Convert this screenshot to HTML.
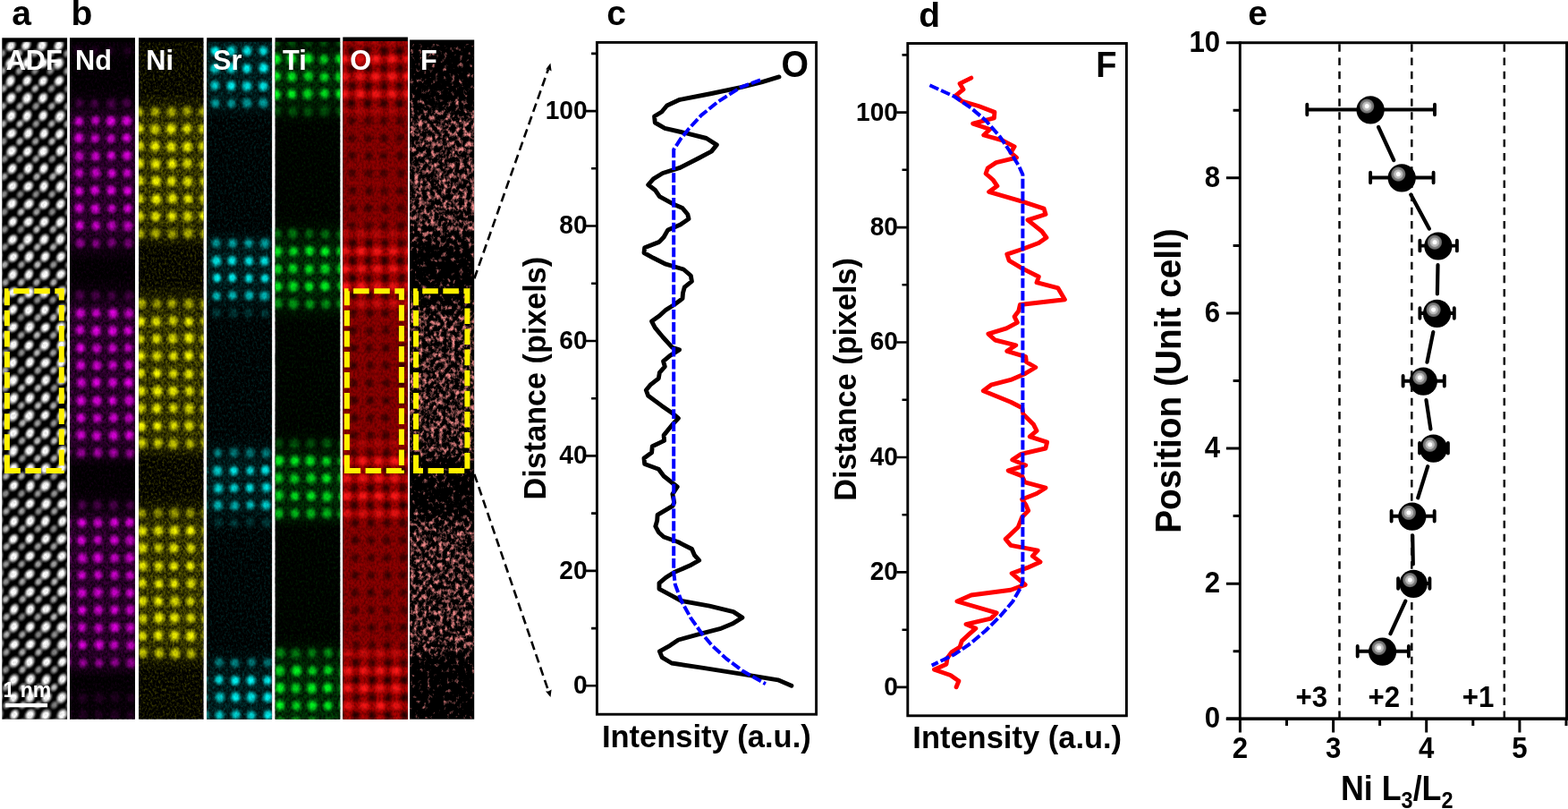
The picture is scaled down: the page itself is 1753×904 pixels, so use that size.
<!DOCTYPE html>
<html lang="en"><head><meta charset="utf-8"><title>Figure</title>
<style>html,body{margin:0;padding:0;background:#fff;overflow:hidden}svg{display:block}text{font-family:"Liberation Sans",Arial,Helvetica,sans-serif;font-weight:bold}</style>
</head><body>
<svg width="1753" height="904" viewBox="0 0 1753 904" role="img" aria-label="Figure panels a to e">
<defs>
<radialGradient id="gW"><stop offset="0" stop-color="#fff" stop-opacity="1"/><stop offset="0.35" stop-color="#fff" stop-opacity="1"/><stop offset="0.6" stop-color="#fff" stop-opacity="0.6"/><stop offset="0.8" stop-color="#fff" stop-opacity="0.2"/><stop offset="1" stop-color="#fff" stop-opacity="0"/></radialGradient>
<radialGradient id="gG"><stop offset="0" stop-color="#ddd" stop-opacity="0.95"/><stop offset="0.35" stop-color="#ddd" stop-opacity="0.8"/><stop offset="0.65" stop-color="#ddd" stop-opacity="0.35"/><stop offset="0.85" stop-color="#ddd" stop-opacity="0.1"/><stop offset="1" stop-color="#ddd" stop-opacity="0"/></radialGradient>
<radialGradient id="gM"><stop offset="0" stop-color="#f0f" stop-opacity="0.92"/><stop offset="0.25" stop-color="#f0f" stop-opacity="0.85"/><stop offset="0.46" stop-color="#f0f" stop-opacity="0.6"/><stop offset="0.66" stop-color="#f0f" stop-opacity="0.3"/><stop offset="0.85" stop-color="#f0f" stop-opacity="0.08"/><stop offset="1" stop-color="#f0f" stop-opacity="0"/></radialGradient>
<radialGradient id="gY"><stop offset="0" stop-color="#ff0" stop-opacity="1"/><stop offset="0.26" stop-color="#ff0" stop-opacity="0.97"/><stop offset="0.46" stop-color="#ff0" stop-opacity="0.68"/><stop offset="0.66" stop-color="#ff0" stop-opacity="0.33"/><stop offset="0.85" stop-color="#ff0" stop-opacity="0.09"/><stop offset="1" stop-color="#ff0" stop-opacity="0"/></radialGradient>
<radialGradient id="gC"><stop offset="0" stop-color="#0ff" stop-opacity="1"/><stop offset="0.26" stop-color="#0ff" stop-opacity="0.97"/><stop offset="0.46" stop-color="#0ff" stop-opacity="0.68"/><stop offset="0.66" stop-color="#0ff" stop-opacity="0.33"/><stop offset="0.85" stop-color="#0ff" stop-opacity="0.09"/><stop offset="1" stop-color="#0ff" stop-opacity="0"/></radialGradient>
<radialGradient id="gT"><stop offset="0" stop-color="#0f2" stop-opacity="1"/><stop offset="0.26" stop-color="#0f2" stop-opacity="0.97"/><stop offset="0.46" stop-color="#0f2" stop-opacity="0.68"/><stop offset="0.66" stop-color="#0f2" stop-opacity="0.33"/><stop offset="0.85" stop-color="#0f2" stop-opacity="0.09"/><stop offset="1" stop-color="#0f2" stop-opacity="0"/></radialGradient>
<radialGradient id="gR"><stop offset="0" stop-color="#ff1818" stop-opacity="1"/><stop offset="0.26" stop-color="#ff1818" stop-opacity="0.97"/><stop offset="0.46" stop-color="#ff1818" stop-opacity="0.68"/><stop offset="0.66" stop-color="#ff1818" stop-opacity="0.33"/><stop offset="0.85" stop-color="#ff1818" stop-opacity="0.09"/><stop offset="1" stop-color="#ff1818" stop-opacity="0"/></radialGradient>
<radialGradient id="gK"><stop offset="0" stop-color="#000" stop-opacity="0.85"/><stop offset="0.4" stop-color="#000" stop-opacity="0.6"/><stop offset="0.7" stop-color="#000" stop-opacity="0.25"/><stop offset="1" stop-color="#000" stop-opacity="0"/></radialGradient>
<radialGradient id="gB"><stop offset="0" stop-color="#000" stop-opacity="1"/><stop offset="0.62" stop-color="#000" stop-opacity="1"/><stop offset="1" stop-color="#000" stop-opacity="1"/></radialGradient>
<circle id="dW" r="1" fill="url(#gW)"/>
<circle id="dG" r="1" fill="url(#gG)"/>
<circle id="dM" r="1" fill="url(#gM)"/>
<circle id="dY" r="1" fill="url(#gY)"/>
<circle id="dC" r="1" fill="url(#gC)"/>
<circle id="dT" r="1" fill="url(#gT)"/>
<circle id="dR" r="1" fill="url(#gR)"/>
<circle id="dK" r="1" fill="url(#gK)"/>
<radialGradient id="ball" cx="0.36" cy="0.36" r="0.3" fx="0.36" fy="0.36"><stop offset="0" stop-color="#fff"/><stop offset="0.2" stop-color="#fff"/><stop offset="0.3" stop-color="#c8c8c8"/><stop offset="0.5" stop-color="#a0a0a0"/><stop offset="0.72" stop-color="#707070"/><stop offset="0.9" stop-color="#303030"/><stop offset="1" stop-color="#000"/></radialGradient>
<g id="bl"><circle r="15.6" fill="#000"/><circle cx="-3.9" cy="-4.3" r="8.6" fill="url(#bl2)"/></g>
<radialGradient id="bl2"><stop offset="0" stop-color="#fff"/><stop offset="0.24" stop-color="#fff"/><stop offset="0.33" stop-color="#c8c8c8"/><stop offset="0.56" stop-color="#b0b0b0"/><stop offset="0.64" stop-color="#808080"/><stop offset="0.86" stop-color="#6c6c6c"/><stop offset="0.93" stop-color="#333"/><stop offset="1" stop-color="#000"/></radialGradient>
<filter id="nz" x="0" y="0" width="1" height="1" color-interpolation-filters="sRGB"><feTurbulence type="fractalNoise" baseFrequency="0.42 0.3" numOctaves="2" seed="5"/><feColorMatrix type="matrix" values="0 0 0 0 0 0 0 0 0 0 0 0 0 0 0 1.7 0 0 0 -0.62"/></filter>
<filter id="fz" x="0" y="0" width="1" height="1" color-interpolation-filters="sRGB"><feTurbulence type="fractalNoise" baseFrequency="0.22 0.17" numOctaves="3" seed="11" result="n"/><feColorMatrix in="n" type="matrix" values="0 0 0 0 0 0 0 0 0 0 0 0 0 0 0 1 0 0 0 0" result="na"/><feComposite in="na" in2="SourceGraphic" operator="arithmetic" k1="0" k2="1" k3="1" k4="-0.5" result="s"/><feComponentTransfer in="s" result="t"><feFuncA type="linear" slope="3" intercept="-1.5"/></feComponentTransfer><feFlood flood-color="#ee8888"/><feComposite operator="in" in2="t"/><feGaussianBlur stdDeviation="0.5"/></filter>
<filter id="sp" x="0" y="0" width="1" height="1" color-interpolation-filters="sRGB"><feTurbulence type="fractalNoise" baseFrequency="0.45 0.33" numOctaves="2" seed="23" result="n"/><feColorMatrix in="n" type="matrix" values="0 0 0 0 0 0 0 0 0 0 0 0 0 0 0 0 3 0 0 -1.25" result="na"/><feComposite in="SourceGraphic" in2="na" operator="in"/></filter>
</defs>
<clipPath id="cADF"><rect x="2.3" y="46.8" width="72.8" height="756.9"/></clipPath>
<clipPath id="cNd"><rect x="78" y="46.7" width="73" height="757"/></clipPath>
<clipPath id="cNi"><rect x="155.1" y="46.7" width="72.4" height="757"/></clipPath>
<clipPath id="cSr"><rect x="231.2" y="46.7" width="72.9" height="757"/></clipPath>
<clipPath id="cTi"><rect x="307.6" y="46.7" width="72.7" height="757"/></clipPath>
<clipPath id="cO"><rect x="383.3" y="46" width="72.6" height="757.7"/></clipPath>
<clipPath id="cF"><rect x="458.1" y="49" width="72.1" height="754.7"/></clipPath>
<rect x="2.3" y="42.3" width="72.8" height="761.4" fill="#000"/>
<g clip-path="url(#cADF)"><use href="#dG" transform="translate(2.4 40) scale(5.8 6.4) skewX(-14)" opacity="0.7"/><use href="#dG" transform="translate(20.7 40) scale(5.8 6.4) skewX(-14)" opacity="0.68"/><use href="#dG" transform="translate(38.5 40) scale(5.8 6.4) skewX(-14)" opacity="0.78"/><use href="#dG" transform="translate(55.8 40) scale(5.8 6.4) skewX(-14)" opacity="0.83"/><use href="#dG" transform="translate(73.7 40) scale(5.8 6.4) skewX(-14)" opacity="0.8"/><use href="#dG" transform="translate(91.6 40) scale(5.8 6.4) skewX(-14)" opacity="0.68"/><use href="#dG" transform="translate(110 40) scale(5.8 6.4) skewX(-14)" opacity="0.94"/><use href="#dG" transform="translate(2.6 59.6) scale(5.8 6.4) skewX(-14)" opacity="0.73"/><use href="#dG" transform="translate(21.1 59.6) scale(5.8 6.4) skewX(-14)" opacity="0.98"/><use href="#dG" transform="translate(38.9 59.6) scale(5.8 6.4) skewX(-14)" opacity="0.79"/><use href="#dG" transform="translate(57.3 59.6) scale(5.8 6.4) skewX(-14)" opacity="0.67"/><use href="#dG" transform="translate(75 59.6) scale(5.8 6.4) skewX(-14)" opacity="0.75"/><use href="#dG" transform="translate(92.1 59.6) scale(5.8 6.4) skewX(-14)" opacity="0.69"/><use href="#dG" transform="translate(110.2 59.6) scale(5.8 6.4) skewX(-14)" opacity="0.94"/><use href="#dG" transform="translate(2.9 79.3) scale(5.8 6.4) skewX(-14)" opacity="0.85"/><use href="#dG" transform="translate(21.4 79.3) scale(5.8 6.4) skewX(-14)" opacity="0.78"/><use href="#dG" transform="translate(39.2 79.3) scale(5.8 6.4) skewX(-14)" opacity="0.67"/><use href="#dG" transform="translate(56.5 79.3) scale(5.8 6.4) skewX(-14)" opacity="0.72"/><use href="#dG" transform="translate(75.1 79.3) scale(5.8 6.4) skewX(-14)" opacity="0.8"/><use href="#dG" transform="translate(92.6 79.3) scale(5.8 6.4) skewX(-14)" opacity="0.85"/><use href="#dG" transform="translate(110.7 79.3) scale(5.8 6.4) skewX(-14)" opacity="0.75"/><use href="#dG" transform="translate(4 99) scale(5.8 6.4) skewX(-14)" opacity="0.89"/><use href="#dG" transform="translate(21.2 99) scale(5.8 6.4) skewX(-14)" opacity="0.85"/><use href="#dG" transform="translate(39.4 99) scale(5.8 6.4) skewX(-14)" opacity="0.96"/><use href="#dG" transform="translate(57.6 99) scale(5.8 6.4) skewX(-14)" opacity="0.75"/><use href="#dG" transform="translate(75.8 99) scale(5.8 6.4) skewX(-14)" opacity="0.69"/><use href="#dG" transform="translate(93 99) scale(5.8 6.4) skewX(-14)" opacity="0.91"/><use href="#dG" transform="translate(110.6 99) scale(5.8 6.4) skewX(-14)" opacity="0.82"/><use href="#dG" transform="translate(3.3 118.7) scale(5.8 6.4) skewX(-14)" opacity="0.88"/><use href="#dG" transform="translate(22.1 118.7) scale(5.8 6.4) skewX(-14)" opacity="0.85"/><use href="#dG" transform="translate(40.1 118.7) scale(5.8 6.4) skewX(-14)" opacity="0.76"/><use href="#dG" transform="translate(57.8 118.7) scale(5.8 6.4) skewX(-14)" opacity="0.86"/><use href="#dG" transform="translate(75.6 118.7) scale(5.8 6.4) skewX(-14)" opacity="0.81"/><use href="#dG" transform="translate(93.8 118.7) scale(5.8 6.4) skewX(-14)" opacity="0.98"/><use href="#dG" transform="translate(111.3 118.7) scale(5.8 6.4) skewX(-14)" opacity="0.88"/><use href="#dG" transform="translate(3.6 138.4) scale(5.8 6.4) skewX(-14)" opacity="0.9"/><use href="#dG" transform="translate(22.2 138.4) scale(5.8 6.4) skewX(-14)"/><use href="#dG" transform="translate(40.3 138.4) scale(5.8 6.4) skewX(-14)" opacity="0.75"/><use href="#dG" transform="translate(57.7 138.4) scale(5.8 6.4) skewX(-14)" opacity="0.88"/><use href="#dG" transform="translate(75.2 138.4) scale(5.8 6.4) skewX(-14)" opacity="0.81"/><use href="#dG" transform="translate(93.2 138.4) scale(5.8 6.4) skewX(-14)" opacity="0.69"/><use href="#dG" transform="translate(111 138.4) scale(5.8 6.4) skewX(-14)" opacity="0.92"/><use href="#dG" transform="translate(3.9 158) scale(5.8 6.4) skewX(-14)" opacity="0.74"/><use href="#dG" transform="translate(22.1 158) scale(5.8 6.4) skewX(-14)" opacity="0.95"/><use href="#dG" transform="translate(39.7 158) scale(5.8 6.4) skewX(-14)" opacity="0.81"/><use href="#dG" transform="translate(58.1 158) scale(5.8 6.4) skewX(-14)" opacity="0.96"/><use href="#dG" transform="translate(76.4 158) scale(5.8 6.4) skewX(-14)" opacity="0.95"/><use href="#dG" transform="translate(93.6 158) scale(5.8 6.4) skewX(-14)" opacity="0.8"/><use href="#dG" transform="translate(111.6 158) scale(5.8 6.4) skewX(-14)" opacity="0.96"/><use href="#dG" transform="translate(5.1 177.7) scale(5.8 6.4) skewX(-14)" opacity="0.7"/><use href="#dG" transform="translate(22.1 177.7) scale(5.8 6.4) skewX(-14)" opacity="0.73"/><use href="#dG" transform="translate(40.1 177.7) scale(5.8 6.4) skewX(-14)" opacity="0.82"/><use href="#dG" transform="translate(58.4 177.7) scale(5.8 6.4) skewX(-14)" opacity="0.74"/><use href="#dG" transform="translate(75.6 177.7) scale(5.8 6.4) skewX(-14)" opacity="0.8"/><use href="#dG" transform="translate(93.9 177.7) scale(5.8 6.4) skewX(-14)" opacity="0.85"/><use href="#dG" transform="translate(112.5 177.7) scale(5.8 6.4) skewX(-14)" opacity="0.89"/><use href="#dG" transform="translate(4.8 197.4) scale(5.8 6.4) skewX(-14)" opacity="0.87"/><use href="#dG" transform="translate(22.9 197.4) scale(5.8 6.4) skewX(-14)" opacity="0.67"/><use href="#dG" transform="translate(41.1 197.4) scale(5.8 6.4) skewX(-14)" opacity="0.92"/><use href="#dG" transform="translate(58.9 197.4) scale(5.8 6.4) skewX(-14)" opacity="0.93"/><use href="#dG" transform="translate(76.3 197.4) scale(5.8 6.4) skewX(-14)" opacity="0.79"/><use href="#dG" transform="translate(93.8 197.4) scale(5.8 6.4) skewX(-14)" opacity="0.87"/><use href="#dG" transform="translate(111.7 197.4) scale(5.8 6.4) skewX(-14)" opacity="0.67"/><use href="#dG" transform="translate(4.6 217.1) scale(5.8 6.4) skewX(-14)" opacity="0.71"/><use href="#dG" transform="translate(22.7 217.1) scale(5.8 6.4) skewX(-14)" opacity="0.67"/><use href="#dG" transform="translate(40.2 217.1) scale(5.8 6.4) skewX(-14)" opacity="0.7"/><use href="#dG" transform="translate(58.2 217.1) scale(5.8 6.4) skewX(-14)" opacity="0.78"/><use href="#dG" transform="translate(76 217.1) scale(5.8 6.4) skewX(-14)" opacity="0.96"/><use href="#dG" transform="translate(94.6 217.1) scale(5.8 6.4) skewX(-14)" opacity="0.7"/><use href="#dG" transform="translate(112.1 217.1) scale(5.8 6.4) skewX(-14)" opacity="0.77"/><use href="#dG" transform="translate(5 236.8) scale(5.8 6.4) skewX(-14)" opacity="0.69"/><use href="#dG" transform="translate(23.5 236.8) scale(5.8 6.4) skewX(-14)"/><use href="#dG" transform="translate(40.9 236.8) scale(5.8 6.4) skewX(-14)" opacity="0.82"/><use href="#dG" transform="translate(58.4 236.8) scale(5.8 6.4) skewX(-14)" opacity="0.69"/><use href="#dG" transform="translate(76.6 236.8) scale(5.8 6.4) skewX(-14)" opacity="0.74"/><use href="#dG" transform="translate(95 236.8) scale(5.8 6.4) skewX(-14)" opacity="0.71"/><use href="#dG" transform="translate(112 236.8) scale(5.8 6.4) skewX(-14)" opacity="0.98"/><use href="#dG" transform="translate(5.3 256.4) scale(5.8 6.4) skewX(-14)" opacity="0.7"/><use href="#dG" transform="translate(23.3 256.4) scale(5.8 6.4) skewX(-14)" opacity="0.66"/><use href="#dG" transform="translate(41.1 256.4) scale(5.8 6.4) skewX(-14)" opacity="0.99"/><use href="#dG" transform="translate(59.4 256.4) scale(5.8 6.4) skewX(-14)" opacity="0.89"/><use href="#dG" transform="translate(76.6 256.4) scale(5.8 6.4) skewX(-14)" opacity="0.78"/><use href="#dG" transform="translate(94.4 256.4) scale(5.8 6.4) skewX(-14)" opacity="0.92"/><use href="#dG" transform="translate(112.7 256.4) scale(5.8 6.4) skewX(-14)" opacity="0.92"/><use href="#dG" transform="translate(5.3 276.1) scale(5.8 6.4) skewX(-14)" opacity="0.73"/><use href="#dG" transform="translate(23.7 276.1) scale(5.8 6.4) skewX(-14)" opacity="0.99"/><use href="#dG" transform="translate(41.7 276.1) scale(5.8 6.4) skewX(-14)" opacity="0.93"/><use href="#dG" transform="translate(59.5 276.1) scale(5.8 6.4) skewX(-14)" opacity="0.91"/><use href="#dG" transform="translate(76.7 276.1) scale(5.8 6.4) skewX(-14)" opacity="0.83"/><use href="#dG" transform="translate(94.8 276.1) scale(5.8 6.4) skewX(-14)" opacity="0.66"/><use href="#dG" transform="translate(112.3 276.1) scale(5.8 6.4) skewX(-14)" opacity="0.75"/><use href="#dG" transform="translate(5.3 295.8) scale(5.8 6.4) skewX(-14)" opacity="0.89"/><use href="#dG" transform="translate(24 295.8) scale(5.8 6.4) skewX(-14)" opacity="0.81"/><use href="#dG" transform="translate(41.9 295.8) scale(5.8 6.4) skewX(-14)"/><use href="#dG" transform="translate(59.8 295.8) scale(5.8 6.4) skewX(-14)" opacity="0.78"/><use href="#dG" transform="translate(76.9 295.8) scale(5.8 6.4) skewX(-14)" opacity="0.73"/><use href="#dG" transform="translate(94.7 295.8) scale(5.8 6.4) skewX(-14)" opacity="0.72"/><use href="#dG" transform="translate(113.1 295.8) scale(5.8 6.4) skewX(-14)" opacity="0.97"/><use href="#dG" transform="translate(6.1 315.5) scale(5.8 6.4) skewX(-14)" opacity="0.82"/><use href="#dG" transform="translate(23.8 315.5) scale(5.8 6.4) skewX(-14)" opacity="0.93"/><use href="#dG" transform="translate(41 315.5) scale(5.8 6.4) skewX(-14)" opacity="0.88"/><use href="#dG" transform="translate(59.9 315.5) scale(5.8 6.4) skewX(-14)" opacity="0.92"/><use href="#dG" transform="translate(77.6 315.5) scale(5.8 6.4) skewX(-14)" opacity="0.82"/><use href="#dG" transform="translate(94.8 315.5) scale(5.8 6.4) skewX(-14)" opacity="0.93"/><use href="#dG" transform="translate(112.9 315.5) scale(5.8 6.4) skewX(-14)" opacity="0.93"/><use href="#dG" transform="translate(6.4 335.2) scale(5.8 6.4) skewX(-14)" opacity="0.79"/><use href="#dG" transform="translate(23.6 335.2) scale(5.8 6.4) skewX(-14)" opacity="0.98"/><use href="#dG" transform="translate(41.9 335.2) scale(5.8 6.4) skewX(-14)" opacity="0.71"/><use href="#dG" transform="translate(59.1 335.2) scale(5.8 6.4) skewX(-14)" opacity="0.7"/><use href="#dG" transform="translate(77.9 335.2) scale(5.8 6.4) skewX(-14)" opacity="0.93"/><use href="#dG" transform="translate(94.9 335.2) scale(5.8 6.4) skewX(-14)" opacity="0.94"/><use href="#dG" transform="translate(113.8 335.2) scale(5.8 6.4) skewX(-14)" opacity="0.88"/><use href="#dG" transform="translate(5.8 354.8) scale(5.8 6.4) skewX(-14)" opacity="0.84"/><use href="#dG" transform="translate(23.4 354.8) scale(5.8 6.4) skewX(-14)" opacity="0.65"/><use href="#dG" transform="translate(42.3 354.8) scale(5.8 6.4) skewX(-14)" opacity="0.88"/><use href="#dG" transform="translate(59.7 354.8) scale(5.8 6.4) skewX(-14)" opacity="0.98"/><use href="#dG" transform="translate(77.5 354.8) scale(5.8 6.4) skewX(-14)" opacity="0.96"/><use href="#dG" transform="translate(95.8 354.8) scale(5.8 6.4) skewX(-14)" opacity="0.72"/><use href="#dG" transform="translate(113.1 354.8) scale(5.8 6.4) skewX(-14)" opacity="0.75"/><use href="#dG" transform="translate(5.7 374.5) scale(5.8 6.4) skewX(-14)" opacity="0.86"/><use href="#dG" transform="translate(23.7 374.5) scale(5.8 6.4) skewX(-14)" opacity="0.8"/><use href="#dG" transform="translate(41.4 374.5) scale(5.8 6.4) skewX(-14)" opacity="0.97"/><use href="#dG" transform="translate(59.6 374.5) scale(5.8 6.4) skewX(-14)" opacity="0.81"/><use href="#dG" transform="translate(77.8 374.5) scale(5.8 6.4) skewX(-14)" opacity="0.97"/><use href="#dG" transform="translate(95.5 374.5) scale(5.8 6.4) skewX(-14)" opacity="0.97"/><use href="#dG" transform="translate(113.5 374.5) scale(5.8 6.4) skewX(-14)" opacity="0.84"/><use href="#dG" transform="translate(6.2 394.2) scale(5.8 6.4) skewX(-14)" opacity="0.66"/><use href="#dG" transform="translate(24 394.2) scale(5.8 6.4) skewX(-14)" opacity="0.71"/><use href="#dG" transform="translate(41.4 394.2) scale(5.8 6.4) skewX(-14)" opacity="0.93"/><use href="#dG" transform="translate(59.5 394.2) scale(5.8 6.4) skewX(-14)" opacity="0.82"/><use href="#dG" transform="translate(78 394.2) scale(5.8 6.4) skewX(-14)" opacity="0.84"/><use href="#dG" transform="translate(95.4 394.2) scale(5.8 6.4) skewX(-14)" opacity="0.83"/><use href="#dG" transform="translate(113.6 394.2) scale(5.8 6.4) skewX(-14)" opacity="0.92"/><use href="#dG" transform="translate(5.8 413.9) scale(5.8 6.4) skewX(-14)" opacity="0.85"/><use href="#dG" transform="translate(23.8 413.9) scale(5.8 6.4) skewX(-14)" opacity="0.75"/><use href="#dG" transform="translate(42.4 413.9) scale(5.8 6.4) skewX(-14)" opacity="0.83"/><use href="#dG" transform="translate(60 413.9) scale(5.8 6.4) skewX(-14)" opacity="0.92"/><use href="#dG" transform="translate(78.3 413.9) scale(5.8 6.4) skewX(-14)" opacity="0.81"/><use href="#dG" transform="translate(95.9 413.9) scale(5.8 6.4) skewX(-14)" opacity="0.83"/><use href="#dG" transform="translate(113.7 413.9) scale(5.8 6.4) skewX(-14)" opacity="0.89"/><use href="#dG" transform="translate(6.3 433.6) scale(5.8 6.4) skewX(-14)" opacity="0.84"/><use href="#dG" transform="translate(24.2 433.6) scale(5.8 6.4) skewX(-14)" opacity="0.98"/><use href="#dG" transform="translate(42.4 433.6) scale(5.8 6.4) skewX(-14)" opacity="0.96"/><use href="#dG" transform="translate(60.5 433.6) scale(5.8 6.4) skewX(-14)" opacity="0.74"/><use href="#dG" transform="translate(78 433.6) scale(5.8 6.4) skewX(-14)" opacity="0.98"/><use href="#dG" transform="translate(96.2 433.6) scale(5.8 6.4) skewX(-14)" opacity="0.7"/><use href="#dG" transform="translate(113.3 433.6) scale(5.8 6.4) skewX(-14)" opacity="0.8"/><use href="#dG" transform="translate(5.9 453.2) scale(5.8 6.4) skewX(-14)" opacity="0.73"/><use href="#dG" transform="translate(23.8 453.2) scale(5.8 6.4) skewX(-14)" opacity="0.88"/><use href="#dG" transform="translate(42.5 453.2) scale(5.8 6.4) skewX(-14)" opacity="0.96"/><use href="#dG" transform="translate(59.7 453.2) scale(5.8 6.4) skewX(-14)" opacity="0.9"/><use href="#dG" transform="translate(78.2 453.2) scale(5.8 6.4) skewX(-14)" opacity="0.7"/><use href="#dG" transform="translate(96.4 453.2) scale(5.8 6.4) skewX(-14)" opacity="0.99"/><use href="#dG" transform="translate(113.5 453.2) scale(5.8 6.4) skewX(-14)" opacity="0.98"/><use href="#dG" transform="translate(6.3 472.9) scale(5.8 6.4) skewX(-14)" opacity="0.82"/><use href="#dG" transform="translate(25 472.9) scale(5.8 6.4) skewX(-14)" opacity="0.94"/><use href="#dG" transform="translate(41.9 472.9) scale(5.8 6.4) skewX(-14)" opacity="0.8"/><use href="#dG" transform="translate(60.2 472.9) scale(5.8 6.4) skewX(-14)" opacity="0.77"/><use href="#dG" transform="translate(77.7 472.9) scale(5.8 6.4) skewX(-14)" opacity="0.76"/><use href="#dG" transform="translate(96.2 472.9) scale(5.8 6.4) skewX(-14)" opacity="0.66"/><use href="#dG" transform="translate(113.9 472.9) scale(5.8 6.4) skewX(-14)" opacity="0.8"/><use href="#dG" transform="translate(5.9 492.6) scale(5.8 6.4) skewX(-14)" opacity="0.77"/><use href="#dG" transform="translate(24.6 492.6) scale(5.8 6.4) skewX(-14)" opacity="0.83"/><use href="#dG" transform="translate(41.8 492.6) scale(5.8 6.4) skewX(-14)" opacity="0.99"/><use href="#dG" transform="translate(60.6 492.6) scale(5.8 6.4) skewX(-14)" opacity="0.99"/><use href="#dG" transform="translate(77.7 492.6) scale(5.8 6.4) skewX(-14)" opacity="0.74"/><use href="#dG" transform="translate(95.5 492.6) scale(5.8 6.4) skewX(-14)" opacity="0.92"/><use href="#dG" transform="translate(113.7 492.6) scale(5.8 6.4) skewX(-14)" opacity="0.7"/><use href="#dG" transform="translate(6.5 512.3) scale(5.8 6.4) skewX(-14)" opacity="0.97"/><use href="#dG" transform="translate(24.9 512.3) scale(5.8 6.4) skewX(-14)" opacity="0.74"/><use href="#dG" transform="translate(42 512.3) scale(5.8 6.4) skewX(-14)" opacity="0.97"/><use href="#dG" transform="translate(60.4 512.3) scale(5.8 6.4) skewX(-14)" opacity="0.9"/><use href="#dG" transform="translate(77.7 512.3) scale(5.8 6.4) skewX(-14)" opacity="0.67"/><use href="#dG" transform="translate(96.3 512.3) scale(5.8 6.4) skewX(-14)" opacity="0.8"/><use href="#dG" transform="translate(113.5 512.3) scale(5.8 6.4) skewX(-14)" opacity="0.98"/><use href="#dG" transform="translate(6.8 532) scale(5.8 6.4) skewX(-14)" opacity="0.93"/><use href="#dG" transform="translate(24 532) scale(5.8 6.4) skewX(-14)" opacity="0.95"/><use href="#dG" transform="translate(41.9 532) scale(5.8 6.4) skewX(-14)" opacity="0.95"/><use href="#dG" transform="translate(60.3 532) scale(5.8 6.4) skewX(-14)" opacity="0.77"/><use href="#dG" transform="translate(78.3 532) scale(5.8 6.4) skewX(-14)" opacity="0.97"/><use href="#dG" transform="translate(95.9 532) scale(5.8 6.4) skewX(-14)" opacity="0.7"/><use href="#dG" transform="translate(114.1 532) scale(5.8 6.4) skewX(-14)" opacity="0.73"/><use href="#dG" transform="translate(6.2 551.6) scale(5.8 6.4) skewX(-14)" opacity="0.71"/><use href="#dG" transform="translate(24.1 551.6) scale(5.8 6.4) skewX(-14)" opacity="0.72"/><use href="#dG" transform="translate(42.3 551.6) scale(5.8 6.4) skewX(-14)" opacity="0.76"/><use href="#dG" transform="translate(60.7 551.6) scale(5.8 6.4) skewX(-14)" opacity="0.75"/><use href="#dG" transform="translate(78.3 551.6) scale(5.8 6.4) skewX(-14)" opacity="0.71"/><use href="#dG" transform="translate(96 551.6) scale(5.8 6.4) skewX(-14)" opacity="0.66"/><use href="#dG" transform="translate(113.8 551.6) scale(5.8 6.4) skewX(-14)" opacity="0.66"/><use href="#dG" transform="translate(7 571.3) scale(5.8 6.4) skewX(-14)" opacity="0.84"/><use href="#dG" transform="translate(24.3 571.3) scale(5.8 6.4) skewX(-14)" opacity="0.82"/><use href="#dG" transform="translate(43.1 571.3) scale(5.8 6.4) skewX(-14)" opacity="0.69"/><use href="#dG" transform="translate(60.8 571.3) scale(5.8 6.4) skewX(-14)" opacity="0.8"/><use href="#dG" transform="translate(78.3 571.3) scale(5.8 6.4) skewX(-14)" opacity="0.94"/><use href="#dG" transform="translate(96.1 571.3) scale(5.8 6.4) skewX(-14)" opacity="0.83"/><use href="#dG" transform="translate(114.4 571.3) scale(5.8 6.4) skewX(-14)" opacity="0.99"/><use href="#dG" transform="translate(6.6 591) scale(5.8 6.4) skewX(-14)" opacity="0.94"/><use href="#dG" transform="translate(24.9 591) scale(5.8 6.4) skewX(-14)" opacity="0.87"/><use href="#dG" transform="translate(42.5 591) scale(5.8 6.4) skewX(-14)" opacity="0.77"/><use href="#dG" transform="translate(60 591) scale(5.8 6.4) skewX(-14)" opacity="0.7"/><use href="#dG" transform="translate(77.9 591) scale(5.8 6.4) skewX(-14)" opacity="0.91"/><use href="#dG" transform="translate(96 591) scale(5.8 6.4) skewX(-14)" opacity="0.71"/><use href="#dG" transform="translate(113.7 591) scale(5.8 6.4) skewX(-14)" opacity="0.94"/><use href="#dG" transform="translate(7.3 610.7) scale(5.8 6.4) skewX(-14)" opacity="0.88"/><use href="#dG" transform="translate(24.5 610.7) scale(5.8 6.4) skewX(-14)" opacity="0.73"/><use href="#dG" transform="translate(42.4 610.7) scale(5.8 6.4) skewX(-14)" opacity="0.81"/><use href="#dG" transform="translate(60.1 610.7) scale(5.8 6.4) skewX(-14)" opacity="0.81"/><use href="#dG" transform="translate(78.1 610.7) scale(5.8 6.4) skewX(-14)" opacity="0.99"/><use href="#dG" transform="translate(96.9 610.7) scale(5.8 6.4) skewX(-14)" opacity="0.84"/><use href="#dG" transform="translate(113.9 610.7) scale(5.8 6.4) skewX(-14)" opacity="0.99"/><use href="#dG" transform="translate(6.6 630.4) scale(5.8 6.4) skewX(-14)" opacity="0.77"/><use href="#dG" transform="translate(24.2 630.4) scale(5.8 6.4) skewX(-14)" opacity="0.78"/><use href="#dG" transform="translate(42.6 630.4) scale(5.8 6.4) skewX(-14)" opacity="0.83"/><use href="#dG" transform="translate(60.2 630.4) scale(5.8 6.4) skewX(-14)" opacity="0.83"/><use href="#dG" transform="translate(77.9 630.4) scale(5.8 6.4) skewX(-14)" opacity="0.74"/><use href="#dG" transform="translate(95.9 630.4) scale(5.8 6.4) skewX(-14)" opacity="0.79"/><use href="#dG" transform="translate(113.7 630.4) scale(5.8 6.4) skewX(-14)" opacity="0.66"/><use href="#dG" transform="translate(6.7 650) scale(5.8 6.4) skewX(-14)" opacity="0.73"/><use href="#dG" transform="translate(24.9 650) scale(5.8 6.4) skewX(-14)" opacity="0.84"/><use href="#dG" transform="translate(43 650) scale(5.8 6.4) skewX(-14)" opacity="0.88"/><use href="#dG" transform="translate(60.9 650) scale(5.8 6.4) skewX(-14)" opacity="0.96"/><use href="#dG" transform="translate(78.4 650) scale(5.8 6.4) skewX(-14)" opacity="0.76"/><use href="#dG" transform="translate(97 650) scale(5.8 6.4) skewX(-14)" opacity="0.7"/><use href="#dG" transform="translate(114.6 650) scale(5.8 6.4) skewX(-14)" opacity="0.88"/><use href="#dG" transform="translate(6.4 669.7) scale(5.8 6.4) skewX(-14)" opacity="0.94"/><use href="#dG" transform="translate(25.3 669.7) scale(5.8 6.4) skewX(-14)" opacity="0.87"/><use href="#dG" transform="translate(43 669.7) scale(5.8 6.4) skewX(-14)" opacity="0.93"/><use href="#dG" transform="translate(60.2 669.7) scale(5.8 6.4) skewX(-14)" opacity="0.83"/><use href="#dG" transform="translate(78.5 669.7) scale(5.8 6.4) skewX(-14)" opacity="0.94"/><use href="#dG" transform="translate(96.8 669.7) scale(5.8 6.4) skewX(-14)" opacity="0.94"/><use href="#dG" transform="translate(114.4 669.7) scale(5.8 6.4) skewX(-14)" opacity="0.96"/><use href="#dG" transform="translate(7.2 689.4) scale(5.8 6.4) skewX(-14)" opacity="0.89"/><use href="#dG" transform="translate(24.5 689.4) scale(5.8 6.4) skewX(-14)" opacity="0.66"/><use href="#dG" transform="translate(42.3 689.4) scale(5.8 6.4) skewX(-14)" opacity="0.78"/><use href="#dG" transform="translate(60.2 689.4) scale(5.8 6.4) skewX(-14)" opacity="0.94"/><use href="#dG" transform="translate(78.6 689.4) scale(5.8 6.4) skewX(-14)" opacity="0.87"/><use href="#dG" transform="translate(96.6 689.4) scale(5.8 6.4) skewX(-14)" opacity="0.89"/><use href="#dG" transform="translate(114.4 689.4) scale(5.8 6.4) skewX(-14)" opacity="0.65"/><use href="#dG" transform="translate(7.3 709.1) scale(5.8 6.4) skewX(-14)" opacity="0.91"/><use href="#dG" transform="translate(24.9 709.1) scale(5.8 6.4) skewX(-14)" opacity="0.84"/><use href="#dG" transform="translate(43 709.1) scale(5.8 6.4) skewX(-14)" opacity="0.67"/><use href="#dG" transform="translate(61 709.1) scale(5.8 6.4) skewX(-14)" opacity="0.74"/><use href="#dG" transform="translate(78.1 709.1) scale(5.8 6.4) skewX(-14)" opacity="0.74"/><use href="#dG" transform="translate(96.8 709.1) scale(5.8 6.4) skewX(-14)" opacity="0.72"/><use href="#dG" transform="translate(114.7 709.1) scale(5.8 6.4) skewX(-14)" opacity="0.99"/><use href="#dG" transform="translate(7 728.8) scale(5.8 6.4) skewX(-14)" opacity="0.78"/><use href="#dG" transform="translate(24.9 728.8) scale(5.8 6.4) skewX(-14)" opacity="0.89"/><use href="#dG" transform="translate(43.1 728.8) scale(5.8 6.4) skewX(-14)" opacity="0.87"/><use href="#dG" transform="translate(60.9 728.8) scale(5.8 6.4) skewX(-14)" opacity="0.68"/><use href="#dG" transform="translate(78.2 728.8) scale(5.8 6.4) skewX(-14)" opacity="0.74"/><use href="#dG" transform="translate(96.8 728.8) scale(5.8 6.4) skewX(-14)" opacity="0.76"/><use href="#dG" transform="translate(114.5 728.8) scale(5.8 6.4) skewX(-14)" opacity="0.65"/><use href="#dG" transform="translate(6.5 748.4) scale(5.8 6.4) skewX(-14)" opacity="0.74"/><use href="#dG" transform="translate(25.1 748.4) scale(5.8 6.4) skewX(-14)" opacity="0.89"/><use href="#dG" transform="translate(43.1 748.4) scale(5.8 6.4) skewX(-14)" opacity="0.75"/><use href="#dG" transform="translate(60.8 748.4) scale(5.8 6.4) skewX(-14)" opacity="0.81"/><use href="#dG" transform="translate(78.6 748.4) scale(5.8 6.4) skewX(-14)" opacity="0.69"/><use href="#dG" transform="translate(97 748.4) scale(5.8 6.4) skewX(-14)" opacity="0.72"/><use href="#dG" transform="translate(115 748.4) scale(5.8 6.4) skewX(-14)" opacity="0.98"/><use href="#dG" transform="translate(6.5 768.1) scale(5.8 6.4) skewX(-14)" opacity="0.81"/><use href="#dG" transform="translate(25.3 768.1) scale(5.8 6.4) skewX(-14)" opacity="0.99"/><use href="#dG" transform="translate(42.8 768.1) scale(5.8 6.4) skewX(-14)" opacity="0.74"/><use href="#dG" transform="translate(60.4 768.1) scale(5.8 6.4) skewX(-14)" opacity="0.98"/><use href="#dG" transform="translate(78.3 768.1) scale(5.8 6.4) skewX(-14)" opacity="0.85"/><use href="#dG" transform="translate(96.1 768.1) scale(5.8 6.4) skewX(-14)" opacity="0.83"/><use href="#dG" transform="translate(115 768.1) scale(5.8 6.4) skewX(-14)" opacity="0.7"/><use href="#dG" transform="translate(7.5 787.8) scale(5.8 6.4) skewX(-14)" opacity="0.83"/><use href="#dG" transform="translate(25.5 787.8) scale(5.8 6.4) skewX(-14)" opacity="0.9"/><use href="#dG" transform="translate(42.6 787.8) scale(5.8 6.4) skewX(-14)" opacity="0.96"/><use href="#dG" transform="translate(60.8 787.8) scale(5.8 6.4) skewX(-14)" opacity="0.66"/><use href="#dG" transform="translate(78.1 787.8) scale(5.8 6.4) skewX(-14)" opacity="0.82"/><use href="#dG" transform="translate(96.5 787.8) scale(5.8 6.4) skewX(-14)" opacity="0.76"/><use href="#dG" transform="translate(114.1 787.8) scale(5.8 6.4) skewX(-14)" opacity="0.77"/><use href="#dG" transform="translate(6.9 807.5) scale(5.8 6.4) skewX(-14)" opacity="0.94"/><use href="#dG" transform="translate(24.4 807.5) scale(5.8 6.4) skewX(-14)" opacity="0.91"/><use href="#dG" transform="translate(43.3 807.5) scale(5.8 6.4) skewX(-14)" opacity="0.69"/><use href="#dG" transform="translate(61.3 807.5) scale(5.8 6.4) skewX(-14)" opacity="0.9"/><use href="#dG" transform="translate(79.2 807.5) scale(5.8 6.4) skewX(-14)" opacity="0.75"/><use href="#dG" transform="translate(96.5 807.5) scale(5.8 6.4) skewX(-14)" opacity="0.79"/><use href="#dG" transform="translate(115.1 807.5) scale(5.8 6.4) skewX(-14)" opacity="0.86"/><use href="#dG" transform="translate(7 827.2) scale(5.8 6.4) skewX(-14)" opacity="0.8"/><use href="#dG" transform="translate(24.8 827.2) scale(5.8 6.4) skewX(-14)" opacity="0.67"/><use href="#dG" transform="translate(42.4 827.2) scale(5.8 6.4) skewX(-14)" opacity="0.94"/><use href="#dG" transform="translate(60.6 827.2) scale(5.8 6.4) skewX(-14)" opacity="0.98"/><use href="#dG" transform="translate(78.4 827.2) scale(5.8 6.4) skewX(-14)" opacity="0.74"/><use href="#dG" transform="translate(96.6 827.2) scale(5.8 6.4) skewX(-14)" opacity="0.72"/><use href="#dG" transform="translate(114.4 827.2) scale(5.8 6.4) skewX(-14)" opacity="0.98"/><use href="#dW" transform="translate(-6.1 31.6) scale(7.4 8.7) skewX(-14)"/><use href="#dW" transform="translate(11.8 31.4) scale(7.5 7.6) skewX(-14)"/><use href="#dW" transform="translate(29.5 31.3) scale(7.5 8.4) skewX(-14)"/><use href="#dW" transform="translate(46.9 30.9) scale(7.7 7.7) skewX(-14)"/><use href="#dW" transform="translate(65 31.2) scale(7 8.5) skewX(-14)"/><use href="#dW" transform="translate(83.5 31.1) scale(7.4 7.9) skewX(-14)"/><use href="#dW" transform="translate(100.9 31.2) scale(6.8 7.8) skewX(-14)"/><use href="#dW" transform="translate(-6.6 51.4) scale(7.2 7.8) skewX(-14)"/><use href="#dW" transform="translate(12.1 51.5) scale(7.1 7.7) skewX(-14)"/><use href="#dW" transform="translate(29.2 50.6) scale(7 7.7) skewX(-14)"/><use href="#dW" transform="translate(47.1 50.8) scale(7.3 8.7) skewX(-14)"/><use href="#dW" transform="translate(65.7 50.9) scale(7.1 8.2) skewX(-14)"/><use href="#dW" transform="translate(83.1 50.8) scale(6.7 7.9) skewX(-14)"/><use href="#dW" transform="translate(101.7 50.6) scale(7.2 8.4) skewX(-14)"/><use href="#dW" transform="translate(-5.5 70.4) scale(6.9 7.9) skewX(-14)"/><use href="#dW" transform="translate(11.8 70.6) scale(7.7 8.7) skewX(-14)"/><use href="#dW" transform="translate(30.3 70.2) scale(6.7 8.5) skewX(-14)"/><use href="#dW" transform="translate(48.2 70.7) scale(7.3 7.5) skewX(-14)"/><use href="#dW" transform="translate(65.5 71.1) scale(7.6 8.7) skewX(-14)"/><use href="#dW" transform="translate(84.1 70.4) scale(6.7 7.7) skewX(-14)"/><use href="#dW" transform="translate(101.5 70.9) scale(7.7 8.5) skewX(-14)"/><use href="#dW" transform="translate(-5.5 90.6) scale(7.2 8.3) skewX(-14)"/><use href="#dW" transform="translate(11.7 90.6) scale(6.9 8.8) skewX(-14)"/><use href="#dW" transform="translate(30.3 90.2) scale(6.8 7.9) skewX(-14)"/><use href="#dW" transform="translate(48.2 90.6) scale(6.8 7.6) skewX(-14)"/><use href="#dW" transform="translate(66 90.4) scale(7.1 7.8) skewX(-14)"/><use href="#dW" transform="translate(84 89.9) scale(7 8.1) skewX(-14)"/><use href="#dW" transform="translate(102.3 90.5) scale(7.6 8.2) skewX(-14)"/><use href="#dW" transform="translate(-5.7 109.8) scale(7.7 8.5) skewX(-14)"/><use href="#dW" transform="translate(12.3 109.6) scale(7.2 8.4) skewX(-14)"/><use href="#dW" transform="translate(30.3 109.8) scale(7.4 8.8) skewX(-14)"/><use href="#dW" transform="translate(48 109.6) scale(7 8.1) skewX(-14)"/><use href="#dW" transform="translate(66.5 109.7) scale(7.5 8.5) skewX(-14)"/><use href="#dW" transform="translate(84.1 109.7) scale(7.7 8) skewX(-14)"/><use href="#dW" transform="translate(102.4 109.8) scale(6.9 8.5) skewX(-14)"/><use href="#dW" transform="translate(-5.4 130.2) scale(7.2 7.8) skewX(-14)"/><use href="#dW" transform="translate(12.5 129.6) scale(7.4 8.8) skewX(-14)"/><use href="#dW" transform="translate(30.3 129.6) scale(6.9 8.8) skewX(-14)"/><use href="#dW" transform="translate(48.2 129.3) scale(6.7 8.1) skewX(-14)"/><use href="#dW" transform="translate(67 130.1) scale(7.5 8.9) skewX(-14)"/><use href="#dW" transform="translate(84.9 129.5) scale(6.8 8.8) skewX(-14)"/><use href="#dW" transform="translate(102.6 129.3) scale(7.4 8) skewX(-14)"/><use href="#dW" transform="translate(-5 149.2) scale(6.8 7.5) skewX(-14)"/><use href="#dW" transform="translate(12.8 149.3) scale(7.7 7.7) skewX(-14)"/><use href="#dW" transform="translate(31.5 149.1) scale(7 8.6) skewX(-14)"/><use href="#dW" transform="translate(49.2 149.3) scale(6.7 8.2) skewX(-14)"/><use href="#dW" transform="translate(66.6 149.8) scale(6.8 8) skewX(-14)"/><use href="#dW" transform="translate(85.1 148.9) scale(7.1 8.6) skewX(-14)"/><use href="#dW" transform="translate(102.8 148.9) scale(6.7 7.6) skewX(-14)"/><use href="#dW" transform="translate(-4.2 168.8) scale(7.5 8.7) skewX(-14)"/><use href="#dW" transform="translate(13 168.9) scale(7.7 8.4) skewX(-14)"/><use href="#dW" transform="translate(30.9 169.3) scale(7 7.9) skewX(-14)"/><use href="#dW" transform="translate(48.4 169.3) scale(7.7 8.4) skewX(-14)"/><use href="#dW" transform="translate(67.5 168.6) scale(6.9 8.2) skewX(-14)"/><use href="#dW" transform="translate(85.4 169.5) scale(7.1 7.9) skewX(-14)"/><use href="#dW" transform="translate(102.7 169.1) scale(7.7 7.8) skewX(-14)"/><use href="#dW" transform="translate(-4.1 189) scale(7.6 8.6) skewX(-14)"/><use href="#dW" transform="translate(13.6 188.6) scale(7 8) skewX(-14)"/><use href="#dW" transform="translate(31.7 188.3) scale(6.9 8.5) skewX(-14)"/><use href="#dW" transform="translate(48.9 188.3) scale(6.7 8.3) skewX(-14)"/><use href="#dW" transform="translate(66.9 189.2) scale(7.6 8.8) skewX(-14)"/><use href="#dW" transform="translate(84.8 188.3) scale(6.7 8.2) skewX(-14)"/><use href="#dW" transform="translate(103.2 188.7) scale(6.9 8.1) skewX(-14)"/><use href="#dW" transform="translate(-4.1 208.6) scale(7.5 8.7) skewX(-14)"/><use href="#dW" transform="translate(13.8 208.1) scale(7.6 7.9) skewX(-14)"/><use href="#dW" transform="translate(31.6 208.3) scale(7.5 7.8) skewX(-14)"/><use href="#dW" transform="translate(49.1 208.2) scale(6.8 8.7) skewX(-14)"/><use href="#dW" transform="translate(67.4 208.3) scale(7.1 8.8) skewX(-14)"/><use href="#dW" transform="translate(85.2 208.2) scale(7.6 8.4) skewX(-14)"/><use href="#dW" transform="translate(103.7 208) scale(7.2 8.6) skewX(-14)"/><use href="#dW" transform="translate(-3.7 228.5) scale(6.7 7.9) skewX(-14)"/><use href="#dW" transform="translate(13.3 227.8) scale(7.7 8.3) skewX(-14)"/><use href="#dW" transform="translate(32.2 228) scale(7.6 8.1) skewX(-14)"/><use href="#dW" transform="translate(49.3 228.4) scale(7.7 7.7) skewX(-14)"/><use href="#dW" transform="translate(67.6 228.2) scale(6.9 8) skewX(-14)"/><use href="#dW" transform="translate(85 227.8) scale(6.9 8.3) skewX(-14)"/><use href="#dW" transform="translate(103.5 227.8) scale(6.6 8) skewX(-14)"/><use href="#dW" transform="translate(-3.7 247.5) scale(7 7.8) skewX(-14)"/><use href="#dW" transform="translate(14.3 247.8) scale(6.7 7.7) skewX(-14)"/><use href="#dW" transform="translate(31.7 247.9) scale(7.4 7.7) skewX(-14)"/><use href="#dW" transform="translate(49.4 248) scale(7.1 7.9) skewX(-14)"/><use href="#dW" transform="translate(67.4 248.3) scale(7 8.3) skewX(-14)"/><use href="#dW" transform="translate(85.4 247.7) scale(7.6 8.9) skewX(-14)"/><use href="#dW" transform="translate(103.3 247.5) scale(7.5 7.8) skewX(-14)"/><use href="#dW" transform="translate(-4.4 267.9) scale(7.1 8.6) skewX(-14)"/><use href="#dW" transform="translate(14 267.9) scale(7.2 7.8) skewX(-14)"/><use href="#dW" transform="translate(31.4 267.5) scale(7.4 8.7) skewX(-14)"/><use href="#dW" transform="translate(49.4 267.6) scale(7.1 8.2) skewX(-14)"/><use href="#dW" transform="translate(67.4 267.3) scale(7.2 8.8) skewX(-14)"/><use href="#dW" transform="translate(85.2 267.5) scale(7.6 8.8) skewX(-14)"/><use href="#dW" transform="translate(103.2 267.1) scale(7.7 8.8) skewX(-14)"/><use href="#dW" transform="translate(-3.7 286.7) scale(7.7 8.1) skewX(-14)"/><use href="#dW" transform="translate(14.7 287.3) scale(7.6 7.8) skewX(-14)"/><use href="#dW" transform="translate(32.5 286.9) scale(7.1 8.7) skewX(-14)"/><use href="#dW" transform="translate(50.4 286.8) scale(6.9 8.1) skewX(-14)"/><use href="#dW" transform="translate(68 287) scale(6.8 7.9) skewX(-14)"/><use href="#dW" transform="translate(86.1 287.6) scale(6.7 8.3) skewX(-14)"/><use href="#dW" transform="translate(104.1 286.7) scale(7.6 7.7) skewX(-14)"/><use href="#dW" transform="translate(-3.4 306.9) scale(7.3 7.9) skewX(-14)"/><use href="#dW" transform="translate(14.3 306.9) scale(7.1 8.4) skewX(-14)"/><use href="#dW" transform="translate(32.2 306.8) scale(6.7 8.4) skewX(-14)"/><use href="#dW" transform="translate(50.2 306.6) scale(7.5 8.6) skewX(-14)"/><use href="#dW" transform="translate(68 306.5) scale(7.2 7.7) skewX(-14)"/><use href="#dW" transform="translate(85.5 306.8) scale(6.7 8.1) skewX(-14)"/><use href="#dW" transform="translate(103.9 306.4) scale(7.4 7.7) skewX(-14)"/><use href="#dW" transform="translate(-3.1 326.8) scale(7.2 7.6) skewX(-14)"/><use href="#dW" transform="translate(14.5 326.4) scale(7.7 7.7) skewX(-14)"/><use href="#dW" transform="translate(32.8 327) scale(7.5 8.6) skewX(-14)"/><use href="#dW" transform="translate(49.9 327) scale(7.2 8.8) skewX(-14)"/><use href="#dW" transform="translate(68.7 326.2) scale(7.5 8.8) skewX(-14)"/><use href="#dW" transform="translate(85.6 326.4) scale(7.5 7.8) skewX(-14)"/><use href="#dW" transform="translate(104.5 326.3) scale(7.6 7.7) skewX(-14)"/><use href="#dW" transform="translate(-3.3 346.6) scale(6.9 7.9) skewX(-14)"/><use href="#dW" transform="translate(14.6 346) scale(6.7 7.8) skewX(-14)"/><use href="#dW" transform="translate(32.1 346.6) scale(7.4 8.7) skewX(-14)"/><use href="#dW" transform="translate(50 346.5) scale(6.8 8.2) skewX(-14)"/><use href="#dW" transform="translate(68.5 346.1) scale(7.6 8.3) skewX(-14)"/><use href="#dW" transform="translate(86.3 346.6) scale(6.7 8.8) skewX(-14)"/><use href="#dW" transform="translate(104.3 346.1) scale(7.5 7.9) skewX(-14)"/><use href="#dW" transform="translate(-2.6 366) scale(7 8.5) skewX(-14)"/><use href="#dW" transform="translate(14.6 365.6) scale(7.5 7.6) skewX(-14)"/><use href="#dW" transform="translate(33 365.6) scale(7.4 8.8) skewX(-14)"/><use href="#dW" transform="translate(50.6 366) scale(7 7.5) skewX(-14)"/><use href="#dW" transform="translate(67.8 365.5) scale(7.3 8.1) skewX(-14)"/><use href="#dW" transform="translate(86.3 366.3) scale(6.8 7.8) skewX(-14)"/><use href="#dW" transform="translate(104.4 365.4) scale(6.6 8) skewX(-14)"/><use href="#dW" transform="translate(-3.6 385.4) scale(6.9 8.3) skewX(-14)"/><use href="#dW" transform="translate(14.9 385.3) scale(7.3 8.2) skewX(-14)"/><use href="#dW" transform="translate(32.3 386) scale(6.9 7.7) skewX(-14)"/><use href="#dW" transform="translate(50.1 385.7) scale(7.6 8.6) skewX(-14)"/><use href="#dW" transform="translate(68.4 385.3) scale(6.6 8.4) skewX(-14)"/><use href="#dW" transform="translate(86.5 385.4) scale(7.4 8.1) skewX(-14)"/><use href="#dW" transform="translate(104.8 385.8) scale(6.9 8.7) skewX(-14)"/><use href="#dW" transform="translate(-3.6 405.3) scale(7.1 7.9) skewX(-14)"/><use href="#dW" transform="translate(14.4 405.5) scale(6.6 8.3) skewX(-14)"/><use href="#dW" transform="translate(33.3 404.9) scale(6.9 8.3) skewX(-14)"/><use href="#dW" transform="translate(50.7 405.4) scale(7.6 7.8) skewX(-14)"/><use href="#dW" transform="translate(68.4 405) scale(6.7 8.7) skewX(-14)"/><use href="#dW" transform="translate(86.8 405.5) scale(6.6 8.7) skewX(-14)"/><use href="#dW" transform="translate(104.7 405.2) scale(7.5 8.1) skewX(-14)"/><use href="#dW" transform="translate(-3.3 424.5) scale(6.9 7.6) skewX(-14)"/><use href="#dW" transform="translate(14.8 425.2) scale(7.4 8.7) skewX(-14)"/><use href="#dW" transform="translate(33.1 424.7) scale(7.3 8.1) skewX(-14)"/><use href="#dW" transform="translate(51.1 424.9) scale(6.9 8.4) skewX(-14)"/><use href="#dW" transform="translate(69.2 424.6) scale(7.6 7.6) skewX(-14)"/><use href="#dW" transform="translate(86.3 424.7) scale(7.5 8.8) skewX(-14)"/><use href="#dW" transform="translate(104.8 424.7) scale(7.6 8) skewX(-14)"/><use href="#dW" transform="translate(-3.2 445) scale(7.4 8.5) skewX(-14)"/><use href="#dW" transform="translate(15.2 445.1) scale(7.2 8.6) skewX(-14)"/><use href="#dW" transform="translate(33.2 445) scale(7.1 8.5) skewX(-14)"/><use href="#dW" transform="translate(50.9 444.4) scale(6.9 8.4) skewX(-14)"/><use href="#dW" transform="translate(68.2 445) scale(6.8 7.6) skewX(-14)"/><use href="#dW" transform="translate(86.2 445) scale(7 7.7) skewX(-14)"/><use href="#dW" transform="translate(104 444.1) scale(7.4 8.4) skewX(-14)"/><use href="#dW" transform="translate(-2.6 464.5) scale(6.7 8.3) skewX(-14)"/><use href="#dW" transform="translate(14.9 464.6) scale(7.6 8.7) skewX(-14)"/><use href="#dW" transform="translate(32.5 464.6) scale(7.7 8.8) skewX(-14)"/><use href="#dW" transform="translate(50.4 464) scale(6.8 7.6) skewX(-14)"/><use href="#dW" transform="translate(69.2 464.6) scale(7.4 8.6) skewX(-14)"/><use href="#dW" transform="translate(86.9 464.1) scale(6.7 7.7) skewX(-14)"/><use href="#dW" transform="translate(104.9 464) scale(7 8.1) skewX(-14)"/><use href="#dW" transform="translate(-3.3 483.7) scale(6.9 8.5) skewX(-14)"/><use href="#dW" transform="translate(15 483.8) scale(7.7 8.2) skewX(-14)"/><use href="#dW" transform="translate(33.5 484.1) scale(6.7 8.1) skewX(-14)"/><use href="#dW" transform="translate(50.9 484.2) scale(7 8.5) skewX(-14)"/><use href="#dW" transform="translate(68.9 483.7) scale(7.6 7.7) skewX(-14)"/><use href="#dW" transform="translate(87.2 483.6) scale(6.6 7.8) skewX(-14)"/><use href="#dW" transform="translate(105 484.4) scale(6.6 8.2) skewX(-14)"/><use href="#dW" transform="translate(-2.7 503.9) scale(6.8 8.2) skewX(-14)"/><use href="#dW" transform="translate(15.1 504) scale(6.9 8.8) skewX(-14)"/><use href="#dW" transform="translate(32.9 503.4) scale(7.4 8.2) skewX(-14)"/><use href="#dW" transform="translate(50.6 503.8) scale(6.7 8.6) skewX(-14)"/><use href="#dW" transform="translate(69.2 503.9) scale(7.3 8) skewX(-14)"/><use href="#dW" transform="translate(86.7 503.5) scale(7.6 7.7) skewX(-14)"/><use href="#dW" transform="translate(105.2 503.2) scale(6.9 7.9) skewX(-14)"/><use href="#dW" transform="translate(-2.1 523.3) scale(7.1 8.7) skewX(-14)"/><use href="#dW" transform="translate(15 523.3) scale(7.2 8.5) skewX(-14)"/><use href="#dW" transform="translate(33.5 523.5) scale(7 8) skewX(-14)"/><use href="#dW" transform="translate(50.7 523.7) scale(7.4 8.5) skewX(-14)"/><use href="#dW" transform="translate(68.6 523.3) scale(7.5 8.3) skewX(-14)"/><use href="#dW" transform="translate(86.4 523.3) scale(7.6 7.9) skewX(-14)"/><use href="#dW" transform="translate(104.4 523.1) scale(7.4 8.7) skewX(-14)"/><use href="#dW" transform="translate(-3 542.7) scale(6.9 8) skewX(-14)"/><use href="#dW" transform="translate(15.4 542.7) scale(7 7.8) skewX(-14)"/><use href="#dW" transform="translate(33.8 543.2) scale(6.7 8.8) skewX(-14)"/><use href="#dW" transform="translate(50.7 542.9) scale(7.8 8.6) skewX(-14)"/><use href="#dW" transform="translate(69.3 542.9) scale(6.9 8.4) skewX(-14)"/><use href="#dW" transform="translate(86.5 542.7) scale(7.1 7.6) skewX(-14)"/><use href="#dW" transform="translate(104.7 543.3) scale(7.4 8.2) skewX(-14)"/><use href="#dW" transform="translate(-2.3 562.6) scale(6.8 8.3) skewX(-14)"/><use href="#dW" transform="translate(15.3 562.9) scale(7.7 8.1) skewX(-14)"/><use href="#dW" transform="translate(33.4 562.9) scale(7.1 7.8) skewX(-14)"/><use href="#dW" transform="translate(51.5 563.1) scale(7.5 8.5) skewX(-14)"/><use href="#dW" transform="translate(69.5 562.9) scale(7.4 8.1) skewX(-14)"/><use href="#dW" transform="translate(86.8 562.8) scale(6.7 8.1) skewX(-14)"/><use href="#dW" transform="translate(105.2 562.9) scale(7.3 7.9) skewX(-14)"/><use href="#dW" transform="translate(-2.6 582.3) scale(7.3 8.1) skewX(-14)"/><use href="#dW" transform="translate(15.6 582.8) scale(6.8 8.4) skewX(-14)"/><use href="#dW" transform="translate(33.7 582.2) scale(7.2 8.8) skewX(-14)"/><use href="#dW" transform="translate(50.7 582.4) scale(6.8 8.6) skewX(-14)"/><use href="#dW" transform="translate(69.7 582.4) scale(6.7 8.3) skewX(-14)"/><use href="#dW" transform="translate(87.1 582.6) scale(7.2 8.4) skewX(-14)"/><use href="#dW" transform="translate(105.3 582.4) scale(7.1 8.8) skewX(-14)"/><use href="#dW" transform="translate(-2.8 602.2) scale(7.1 8.5) skewX(-14)"/><use href="#dW" transform="translate(15 602.5) scale(7 7.6) skewX(-14)"/><use href="#dW" transform="translate(33.1 601.9) scale(6.6 8.1) skewX(-14)"/><use href="#dW" transform="translate(51.2 602.2) scale(7 7.9) skewX(-14)"/><use href="#dW" transform="translate(68.8 602.3) scale(7.7 8.2) skewX(-14)"/><use href="#dW" transform="translate(86.7 602.3) scale(7.1 7.8) skewX(-14)"/><use href="#dW" transform="translate(104.5 602.3) scale(7.6 8.4) skewX(-14)"/><use href="#dW" transform="translate(-2.4 621.8) scale(6.9 8.8) skewX(-14)"/><use href="#dW" transform="translate(15.3 621.9) scale(7.6 8.6) skewX(-14)"/><use href="#dW" transform="translate(33.4 621.5) scale(7.3 7.7) skewX(-14)"/><use href="#dW" transform="translate(51.7 621.6) scale(7.6 7.9) skewX(-14)"/><use href="#dW" transform="translate(69.1 621.5) scale(7.1 7.8) skewX(-14)"/><use href="#dW" transform="translate(86.5 621.9) scale(6.9 7.9) skewX(-14)"/><use href="#dW" transform="translate(104.8 621.7) scale(7.1 8.4) skewX(-14)"/><use href="#dW" transform="translate(-2.2 641.3) scale(7.7 8.7) skewX(-14)"/><use href="#dW" transform="translate(15 641.7) scale(7.7 8.6) skewX(-14)"/><use href="#dW" transform="translate(33 641.7) scale(7.4 7.6) skewX(-14)"/><use href="#dW" transform="translate(50.8 641.9) scale(7.4 7.9) skewX(-14)"/><use href="#dW" transform="translate(68.8 641) scale(6.9 8.6) skewX(-14)"/><use href="#dW" transform="translate(87 641.1) scale(7.7 8.6) skewX(-14)"/><use href="#dW" transform="translate(104.7 641.8) scale(7.3 8.6) skewX(-14)"/><use href="#dW" transform="translate(-2.1 661.5) scale(7.5 8.6) skewX(-14)"/><use href="#dW" transform="translate(15.2 661.3) scale(7.2 8.5) skewX(-14)"/><use href="#dW" transform="translate(33.4 661.5) scale(7.3 7.9) skewX(-14)"/><use href="#dW" transform="translate(51.1 660.7) scale(7.2 7.6) skewX(-14)"/><use href="#dW" transform="translate(69.2 660.7) scale(7.2 8.2) skewX(-14)"/><use href="#dW" transform="translate(87.2 661.4) scale(6.6 8.6) skewX(-14)"/><use href="#dW" transform="translate(105 661.1) scale(7.4 8.6) skewX(-14)"/><use href="#dW" transform="translate(-2.4 680.7) scale(7.7 7.6) skewX(-14)"/><use href="#dW" transform="translate(15.8 680.9) scale(6.7 8.3) skewX(-14)"/><use href="#dW" transform="translate(33.7 681.2) scale(7 8.8) skewX(-14)"/><use href="#dW" transform="translate(51.4 680.7) scale(7.7 7.6) skewX(-14)"/><use href="#dW" transform="translate(69.6 680.9) scale(7 8.7) skewX(-14)"/><use href="#dW" transform="translate(87.1 680.7) scale(7.2 8.6) skewX(-14)"/><use href="#dW" transform="translate(104.8 680.7) scale(7.1 8.3) skewX(-14)"/><use href="#dW" transform="translate(-1.9 700.2) scale(7.6 8.1) skewX(-14)"/><use href="#dW" transform="translate(15.6 700.2) scale(7.2 8.8) skewX(-14)"/><use href="#dW" transform="translate(33.7 700.7) scale(7 8) skewX(-14)"/><use href="#dW" transform="translate(51.2 700.5) scale(7.4 8.6) skewX(-14)"/><use href="#dW" transform="translate(68.8 700.7) scale(7.6 8.3) skewX(-14)"/><use href="#dW" transform="translate(86.7 700.2) scale(6.6 7.8) skewX(-14)"/><use href="#dW" transform="translate(105.6 700.5) scale(7.4 8.6) skewX(-14)"/><use href="#dW" transform="translate(-1.7 720.2) scale(7.3 8.4) skewX(-14)"/><use href="#dW" transform="translate(15.9 720.2) scale(7.4 7.8) skewX(-14)"/><use href="#dW" transform="translate(33.8 720.1) scale(7.5 7.7) skewX(-14)"/><use href="#dW" transform="translate(51.1 719.7) scale(7.5 8.7) skewX(-14)"/><use href="#dW" transform="translate(69.6 720) scale(7.6 8.6) skewX(-14)"/><use href="#dW" transform="translate(87.3 719.9) scale(7 8.1) skewX(-14)"/><use href="#dW" transform="translate(105 720.1) scale(7.4 8.8) skewX(-14)"/><use href="#dW" transform="translate(-2.7 739.9) scale(6.7 7.7) skewX(-14)"/><use href="#dW" transform="translate(16.1 739.9) scale(7.7 8.1) skewX(-14)"/><use href="#dW" transform="translate(33 739.7) scale(7.3 8.8) skewX(-14)"/><use href="#dW" transform="translate(52.1 739.8) scale(7.1 7.7) skewX(-14)"/><use href="#dW" transform="translate(69.6 739.5) scale(6.8 7.6) skewX(-14)"/><use href="#dW" transform="translate(86.7 740) scale(6.8 8.8) skewX(-14)"/><use href="#dW" transform="translate(104.7 740.2) scale(6.8 7.6) skewX(-14)"/><use href="#dW" transform="translate(-1.9 759.2) scale(7.5 7.8) skewX(-14)"/><use href="#dW" transform="translate(15.2 759.8) scale(7.4 8.7) skewX(-14)"/><use href="#dW" transform="translate(33.9 759.1) scale(7.3 8.5) skewX(-14)"/><use href="#dW" transform="translate(51.5 759.9) scale(6.9 8.8) skewX(-14)"/><use href="#dW" transform="translate(69.7 759) scale(6.6 8.4) skewX(-14)"/><use href="#dW" transform="translate(87.7 759.1) scale(7 8.5) skewX(-14)"/><use href="#dW" transform="translate(104.8 759.8) scale(7.2 7.6) skewX(-14)"/><use href="#dW" transform="translate(-2.3 779.2) scale(7.1 8.4) skewX(-14)"/><use href="#dW" transform="translate(15.3 779.5) scale(7 8.4) skewX(-14)"/><use href="#dW" transform="translate(33.8 779.1) scale(7.1 8.6) skewX(-14)"/><use href="#dW" transform="translate(52.1 779.4) scale(7.3 7.9) skewX(-14)"/><use href="#dW" transform="translate(68.9 779.6) scale(7.4 8.6) skewX(-14)"/><use href="#dW" transform="translate(87.1 779.3) scale(7.8 8.6) skewX(-14)"/><use href="#dW" transform="translate(105.4 779) scale(7.1 8.7) skewX(-14)"/><use href="#dW" transform="translate(-2.3 799) scale(7.3 8.7) skewX(-14)"/><use href="#dW" transform="translate(16.1 798.6) scale(6.6 7.9) skewX(-14)"/><use href="#dW" transform="translate(33.6 798.9) scale(7.6 8.7) skewX(-14)"/><use href="#dW" transform="translate(51 799.2) scale(7.6 8.7) skewX(-14)"/><use href="#dW" transform="translate(69.5 798.6) scale(7.6 8.6) skewX(-14)"/><use href="#dW" transform="translate(87.6 799.3) scale(7 7.7) skewX(-14)"/><use href="#dW" transform="translate(105.3 799.1) scale(6.9 8.5) skewX(-14)"/><use href="#dW" transform="translate(-1.6 818.3) scale(7.3 8.4) skewX(-14)"/><use href="#dW" transform="translate(15.7 818.2) scale(6.9 8.5) skewX(-14)"/><use href="#dW" transform="translate(34 818.5) scale(6.7 8.6) skewX(-14)"/><use href="#dW" transform="translate(51.9 818.3) scale(7.3 8.7) skewX(-14)"/><use href="#dW" transform="translate(69.9 818.5) scale(7.2 8.3) skewX(-14)"/><use href="#dW" transform="translate(87 818.2) scale(6.8 8.5) skewX(-14)"/><use href="#dW" transform="translate(105.1 818.6) scale(7.1 8.2) skewX(-14)"/><rect x="2.3" y="42.3" width="72.8" height="761.4" filter="url(#nz)" opacity="0.15"/></g>
<rect x="78" y="42.2" width="73" height="761.5" fill="#000"/>
<linearGradient id="hNd" x1="0" y1="42.2" x2="0" y2="803.7" gradientUnits="userSpaceOnUse"><stop offset="0.02" stop-color="#340034" stop-opacity="0.1"/><stop offset="0.04" stop-color="#340034" stop-opacity="0"/><stop offset="0.07" stop-color="#340034" stop-opacity="0"/><stop offset="0.1" stop-color="#340034" stop-opacity="0.3"/><stop offset="0.12" stop-color="#340034" stop-opacity="1"/><stop offset="0.15" stop-color="#340034" stop-opacity="1"/><stop offset="0.17" stop-color="#340034" stop-opacity="1"/><stop offset="0.2" stop-color="#340034" stop-opacity="1"/><stop offset="0.22" stop-color="#340034" stop-opacity="1"/><stop offset="0.25" stop-color="#340034" stop-opacity="1"/><stop offset="0.28" stop-color="#340034" stop-opacity="1"/><stop offset="0.3" stop-color="#340034" stop-opacity="0.6"/><stop offset="0.33" stop-color="#340034" stop-opacity="0"/><stop offset="0.35" stop-color="#340034" stop-opacity="0"/><stop offset="0.38" stop-color="#340034" stop-opacity="0.3"/><stop offset="0.4" stop-color="#340034" stop-opacity="1"/><stop offset="0.43" stop-color="#340034" stop-opacity="1"/><stop offset="0.46" stop-color="#340034" stop-opacity="1"/><stop offset="0.48" stop-color="#340034" stop-opacity="1"/><stop offset="0.51" stop-color="#340034" stop-opacity="1"/><stop offset="0.53" stop-color="#340034" stop-opacity="1"/><stop offset="0.56" stop-color="#340034" stop-opacity="1"/><stop offset="0.58" stop-color="#340034" stop-opacity="1"/><stop offset="0.61" stop-color="#340034" stop-opacity="0.7"/><stop offset="0.63" stop-color="#340034" stop-opacity="0"/><stop offset="0.66" stop-color="#340034" stop-opacity="0"/><stop offset="0.69" stop-color="#340034" stop-opacity="0.3"/><stop offset="0.71" stop-color="#340034" stop-opacity="1"/><stop offset="0.74" stop-color="#340034" stop-opacity="1"/><stop offset="0.76" stop-color="#340034" stop-opacity="1"/><stop offset="0.79" stop-color="#340034" stop-opacity="1"/><stop offset="0.81" stop-color="#340034" stop-opacity="1"/><stop offset="0.84" stop-color="#340034" stop-opacity="1"/><stop offset="0.87" stop-color="#340034" stop-opacity="1"/><stop offset="0.89" stop-color="#340034" stop-opacity="1"/><stop offset="0.92" stop-color="#340034" stop-opacity="0.7"/><stop offset="0.94" stop-color="#340034" stop-opacity="0"/><stop offset="0.97" stop-color="#340034" stop-opacity="0.12"/><stop offset="0.99" stop-color="#340034" stop-opacity="0.12"/></linearGradient>
<g clip-path="url(#cNd)"><rect x="78" y="42.2" width="73" height="761.5" fill="url(#hNd)"/><rect x="78" y="42.2" width="73" height="761.5" fill="#a000a0" filter="url(#sp)" opacity="0.12"/><rect x="78" y="42.2" width="73" height="761.5" filter="url(#nz)" opacity="1"/><use href="#dM" transform="translate(87.4 56.4) scale(7.8 8.5)" opacity="0.1"/><use href="#dM" transform="translate(106 57) scale(7.6 8.2)" opacity="0.1"/><use href="#dM" transform="translate(123.5 56.4) scale(7.4 8)" opacity="0.09"/><use href="#dM" transform="translate(142.2 57) scale(8 8.6)" opacity="0.1"/><use href="#dM" transform="translate(70.3 115.9) scale(8.3 9)" opacity="0.3"/><use href="#dM" transform="translate(88.9 115.1) scale(7.4 8)" opacity="0.25"/><use href="#dM" transform="translate(105.8 115.6) scale(7.4 8)" opacity="0.24"/><use href="#dM" transform="translate(124.5 116) scale(8.6 9.3)" opacity="0.26"/><use href="#dM" transform="translate(141.5 115) scale(7.9 8.5)" opacity="0.27"/><use href="#dM" transform="translate(70.6 135.2) scale(8.6 9.3)" opacity="0.92"/><use href="#dM" transform="translate(88.3 135.6) scale(7.6 8.2)" opacity="0.88"/><use href="#dM" transform="translate(106.9 134.7) scale(7.4 8)" opacity="0.83"/><use href="#dM" transform="translate(124.1 135.4) scale(8.5 9.2)" opacity="0.98"/><use href="#dM" transform="translate(141.6 135.2) scale(8.3 8.9)" opacity="0.95"/><use href="#dM" transform="translate(70.2 154.8) scale(8.6 9.2)" opacity="0.95"/><use href="#dM" transform="translate(88.3 154.1) scale(8.3 9)" opacity="0.91"/><use href="#dM" transform="translate(106.3 154.5) scale(7.5 8.1)" opacity="0.84"/><use href="#dM" transform="translate(124 154.8) scale(7.5 8.1)" opacity="0.83"/><use href="#dM" transform="translate(141.7 154) scale(7.6 8.2)" opacity="0.94"/><use href="#dM" transform="translate(71.3 173.7) scale(8.5 9.2)" opacity="0.97"/><use href="#dM" transform="translate(88.6 174.5) scale(8.5 9.2)" opacity="0.8"/><use href="#dM" transform="translate(106.8 174.5) scale(7.8 8.4)" opacity="0.88"/><use href="#dM" transform="translate(124.5 173.8) scale(7.5 8.1)" opacity="0.92"/><use href="#dM" transform="translate(141.9 173.7) scale(8.1 8.7)" opacity="0.94"/><use href="#dM" transform="translate(70.8 194) scale(7.7 8.3)" opacity="0.81"/><use href="#dM" transform="translate(88.6 193.4) scale(8 8.6)" opacity="0.82"/><use href="#dM" transform="translate(107.2 193.1) scale(8.6 9.3)" opacity="0.81"/><use href="#dM" transform="translate(125.1 193.6) scale(7.6 8.2)" opacity="0.93"/><use href="#dM" transform="translate(142.3 193.5) scale(7.6 8.2)" opacity="0.84"/><use href="#dM" transform="translate(71.6 213.6) scale(7.7 8.3)" opacity="0.8"/><use href="#dM" transform="translate(88.4 213.7) scale(7.7 8.4)" opacity="0.94"/><use href="#dM" transform="translate(106.3 212.7) scale(7.8 8.4)" opacity="0.96"/><use href="#dM" transform="translate(124.2 212.8) scale(8 8.7)" opacity="0.96"/><use href="#dM" transform="translate(142.6 213.2) scale(7.6 8.3)" opacity="0.98"/><use href="#dM" transform="translate(71.5 232.2) scale(7.6 8.2)" opacity="0.94"/><use href="#dM" transform="translate(88.6 232.4) scale(8 8.6)" opacity="0.91"/><use href="#dM" transform="translate(106.6 233.1) scale(8.3 8.9)" opacity="0.91"/><use href="#dM" transform="translate(125 233) scale(7.4 8)" opacity="0.82"/><use href="#dM" transform="translate(142.7 233.1) scale(7.4 8)" opacity="0.94"/><use href="#dM" transform="translate(71.8 252.7) scale(7.4 8)" opacity="0.89"/><use href="#dM" transform="translate(89.2 251.8) scale(7.7 8.3)" opacity="0.97"/><use href="#dM" transform="translate(107.5 252.1) scale(7.6 8.2)" opacity="0.86"/><use href="#dM" transform="translate(125.1 252.1) scale(8 8.7)" opacity="0.78"/><use href="#dM" transform="translate(142.9 252.6) scale(8.3 8.9)" opacity="0.81"/><use href="#dM" transform="translate(71.7 271.2) scale(8.3 9)" opacity="0.52"/><use href="#dM" transform="translate(89.8 271.8) scale(8 8.6)" opacity="0.59"/><use href="#dM" transform="translate(107.3 272.3) scale(7.4 8)" opacity="0.54"/><use href="#dM" transform="translate(124.8 271.4) scale(7.5 8.1)" opacity="0.49"/><use href="#dM" transform="translate(143.4 272) scale(7.5 8.1)" opacity="0.47"/><use href="#dM" transform="translate(72 330.6) scale(8 8.7)" opacity="0.27"/><use href="#dM" transform="translate(89.3 329.8) scale(8.3 8.9)" opacity="0.29"/><use href="#dM" transform="translate(107.2 330.1) scale(8 8.6)" opacity="0.27"/><use href="#dM" transform="translate(125.1 330.4) scale(7.5 8.1)" opacity="0.26"/><use href="#dM" transform="translate(143.9 330.6) scale(8.1 8.7)" opacity="0.24"/><use href="#dM" transform="translate(72.5 350.3) scale(7.9 8.5)" opacity="0.87"/><use href="#dM" transform="translate(89.9 350.2) scale(8.6 9.3)" opacity="0.87"/><use href="#dM" transform="translate(107.6 349.8) scale(7.8 8.4)" opacity="0.83"/><use href="#dM" transform="translate(126.3 350.2) scale(8.5 9.2)" opacity="0.96"/><use href="#dM" transform="translate(144 350.4) scale(8 8.7)" opacity="0.79"/><use href="#dM" transform="translate(72 369.4) scale(7.8 8.5)" opacity="0.92"/><use href="#dM" transform="translate(89.5 368.8) scale(8 8.6)" opacity="0.88"/><use href="#dM" transform="translate(107.5 369.9) scale(8.4 9)" opacity="0.99"/><use href="#dM" transform="translate(126 369.9) scale(8.5 9.2)" opacity="0.96"/><use href="#dM" transform="translate(143.2 369.6) scale(7.7 8.3)" opacity="0.92"/><use href="#dM" transform="translate(72.8 388.9) scale(7.7 8.3)" opacity="0.92"/><use href="#dM" transform="translate(90.1 388.7) scale(7.7 8.3)" opacity="0.99"/><use href="#dM" transform="translate(108.2 389.5) scale(8.1 8.8)" opacity="0.81"/><use href="#dM" transform="translate(126 389) scale(8 8.6)" opacity="0.84"/><use href="#dM" transform="translate(143.4 388.7) scale(7.5 8.1)" opacity="0.81"/><use href="#dM" transform="translate(72.1 408.9) scale(8.1 8.7)" opacity="0.8"/><use href="#dM" transform="translate(90.4 408.1) scale(8.2 8.8)" opacity="0.91"/><use href="#dM" transform="translate(108.4 408.6) scale(8.1 8.7)" opacity="0.88"/><use href="#dM" transform="translate(126.1 408.1) scale(7.7 8.3)" opacity="0.85"/><use href="#dM" transform="translate(144 407.9) scale(8.1 8.8)" opacity="0.86"/><use href="#dM" transform="translate(72.2 427.7) scale(8 8.6)" opacity="0.9"/><use href="#dM" transform="translate(91 427.6) scale(8.3 9)" opacity="0.85"/><use href="#dM" transform="translate(107.8 427.5) scale(7.9 8.6)" opacity="0.97"/><use href="#dM" transform="translate(126.1 427.5) scale(8.3 9)" opacity="0.88"/><use href="#dM" transform="translate(143.8 427.6) scale(8.3 9)" opacity="0.99"/><use href="#dM" transform="translate(72.9 447.9) scale(8.4 9.1)" opacity="0.92"/><use href="#dM" transform="translate(90.6 447.8) scale(8.3 9)" opacity="0.94"/><use href="#dM" transform="translate(108.4 448) scale(8.3 8.9)" opacity="0.95"/><use href="#dM" transform="translate(125.9 447.8) scale(7.4 8)" opacity="0.97"/><use href="#dM" transform="translate(144.4 447.6) scale(8.6 9.3)" opacity="0.89"/><use href="#dM" transform="translate(73.2 467) scale(7.8 8.5)" opacity="0.91"/><use href="#dM" transform="translate(90.6 466.9) scale(7.7 8.4)" opacity="0.94"/><use href="#dM" transform="translate(108.7 467.4) scale(7.8 8.4)" opacity="0.86"/><use href="#dM" transform="translate(126.9 466.7) scale(7.9 8.6)" opacity="0.89"/><use href="#dM" transform="translate(144.2 467.1) scale(8.1 8.7)" opacity="0.81"/><use href="#dM" transform="translate(72.7 487.1) scale(8.4 9.1)" opacity="0.97"/><use href="#dM" transform="translate(90.5 486) scale(8.5 9.2)" opacity="0.87"/><use href="#dM" transform="translate(108.2 487.1) scale(8 8.6)" opacity="0.9"/><use href="#dM" transform="translate(127 486.6) scale(8.6 9.3)" opacity="0.9"/><use href="#dM" transform="translate(144.5 486.4) scale(7.9 8.5)" opacity="0.93"/><use href="#dM" transform="translate(73.6 505.6) scale(8 8.7)" opacity="0.65"/><use href="#dM" transform="translate(90.8 506.2) scale(8.1 8.7)" opacity="0.61"/><use href="#dM" transform="translate(109.3 506) scale(8 8.6)" opacity="0.69"/><use href="#dM" transform="translate(126.9 506.1) scale(7.8 8.4)" opacity="0.7"/><use href="#dM" transform="translate(145 506.7) scale(7.8 8.4)" opacity="0.57"/><use href="#dM" transform="translate(73 565.1) scale(8.2 8.9)" opacity="0.29"/><use href="#dM" transform="translate(91.9 564.3) scale(7.9 8.5)" opacity="0.29"/><use href="#dM" transform="translate(109 564.3) scale(8 8.6)" opacity="0.27"/><use href="#dM" transform="translate(126.8 564.5) scale(8.1 8.8)" opacity="0.28"/><use href="#dM" transform="translate(145.6 564.6) scale(7.4 8)" opacity="0.28"/><use href="#dM" transform="translate(73.8 584.6) scale(7.7 8.4)" opacity="0.78"/><use href="#dM" transform="translate(91.6 584.2) scale(7.6 8.2)" opacity="0.93"/><use href="#dM" transform="translate(109.5 584.3) scale(8.2 8.8)" opacity="0.84"/><use href="#dM" transform="translate(127.9 583.8) scale(7.9 8.5)" opacity="0.91"/><use href="#dM" transform="translate(144.8 583.7) scale(7.5 8.1)" opacity="0.95"/><use href="#dM" transform="translate(74.1 603.2) scale(8.4 9.1)" opacity="0.91"/><use href="#dM" transform="translate(91 604) scale(7.8 8.4)" opacity="0.95"/><use href="#dM" transform="translate(109.3 603.3) scale(7.7 8.3)" opacity="0.82"/><use href="#dM" transform="translate(127.9 603.7) scale(7.8 8.4)" opacity="0.91"/><use href="#dM" transform="translate(145.2 603.8) scale(8.5 9.2)" opacity="0.79"/><use href="#dM" transform="translate(74 623.8) scale(7.4 8)" opacity="0.83"/><use href="#dM" transform="translate(92.2 623.7) scale(8.5 9.2)" opacity="0.85"/><use href="#dM" transform="translate(109.4 623.3) scale(8.6 9.3)" opacity="0.91"/><use href="#dM" transform="translate(128.1 623.5) scale(7.9 8.5)" opacity="0.83"/><use href="#dM" transform="translate(145.1 623.3) scale(8.5 9.2)" opacity="0.85"/><use href="#dM" transform="translate(73.6 643.4) scale(7.6 8.2)" opacity="0.86"/><use href="#dM" transform="translate(91.6 642.9) scale(7.5 8.1)" opacity="0.9"/><use href="#dM" transform="translate(109.6 642.4) scale(7.4 8)" opacity="0.87"/><use href="#dM" transform="translate(128.1 642.4) scale(7.7 8.3)" opacity="0.86"/><use href="#dM" transform="translate(145.3 643) scale(7.4 8)" opacity="0.83"/><use href="#dM" transform="translate(74.4 662.7) scale(7.7 8.3)" opacity="0.8"/><use href="#dM" transform="translate(91.6 662.7) scale(8.4 9.1)" opacity="0.88"/><use href="#dM" transform="translate(109.5 662.2) scale(8.3 8.9)" opacity="0.86"/><use href="#dM" transform="translate(128.4 662.3) scale(8.6 9.3)" opacity="0.83"/><use href="#dM" transform="translate(145.4 662.6) scale(7.5 8.1)" opacity="0.88"/><use href="#dM" transform="translate(74.4 682) scale(7.7 8.3)" opacity="0.86"/><use href="#dM" transform="translate(91.8 681.9) scale(7.5 8.1)" opacity="0.97"/><use href="#dM" transform="translate(110.1 681.7) scale(8.3 9)" opacity="0.84"/><use href="#dM" transform="translate(128.1 681.7) scale(7.8 8.4)" opacity="0.9"/><use href="#dM" transform="translate(145.4 681.7) scale(8.4 9.1)" opacity="0.82"/><use href="#dM" transform="translate(74.5 701.2) scale(8 8.6)" opacity="0.86"/><use href="#dM" transform="translate(91.8 701) scale(7.6 8.3)" opacity="0.85"/><use href="#dM" transform="translate(110.4 701.9) scale(7.9 8.5)" opacity="0.84"/><use href="#dM" transform="translate(128.4 701) scale(8.5 9.1)" opacity="0.97"/><use href="#dM" transform="translate(145.7 701.6) scale(8.2 8.9)" opacity="0.79"/><use href="#dM" transform="translate(74.7 721.3) scale(7.7 8.3)" opacity="0.93"/><use href="#dM" transform="translate(92.2 720.5) scale(7.6 8.2)" opacity="0.92"/><use href="#dM" transform="translate(110.8 720.4) scale(8.3 8.9)" opacity="0.94"/><use href="#dM" transform="translate(127.7 720.7) scale(7.6 8.2)" opacity="0.82"/><use href="#dM" transform="translate(146 721.1) scale(7.8 8.4)" opacity="0.79"/><use href="#dM" transform="translate(74.7 740.4) scale(7.7 8.3)" opacity="0.66"/><use href="#dM" transform="translate(92.8 740.9) scale(7.4 8)" opacity="0.6"/><use href="#dM" transform="translate(110.8 740.9) scale(7.4 8)" opacity="0.59"/><use href="#dM" transform="translate(128.5 740) scale(7.7 8.3)" opacity="0.55"/><use href="#dM" transform="translate(146.6 740.8) scale(8.5 9.2)" opacity="0.58"/><use href="#dM" transform="translate(74.8 779.3) scale(8.4 9.1)" opacity="0.11"/><use href="#dM" transform="translate(92.3 780) scale(7.9 8.5)" opacity="0.12"/><use href="#dM" transform="translate(110.9 779.7) scale(8.4 9.1)" opacity="0.11"/><use href="#dM" transform="translate(128.6 779.4) scale(8.3 8.9)" opacity="0.1"/><use href="#dM" transform="translate(146.5 779.8) scale(7.5 8.1)" opacity="0.12"/><use href="#dM" transform="translate(75.4 799.6) scale(8.1 8.7)" opacity="0.1"/><use href="#dM" transform="translate(93.1 798.5) scale(7.7 8.3)" opacity="0.11"/><use href="#dM" transform="translate(110.7 798.8) scale(7.6 8.2)" opacity="0.1"/><use href="#dM" transform="translate(128.3 798.7) scale(8.2 8.9)" opacity="0.11"/><use href="#dM" transform="translate(146.3 799.6) scale(7.9 8.6)" opacity="0.11"/><rect x="78" y="42.2" width="73" height="761.5" filter="url(#nz)" opacity="0.2"/></g>
<rect x="155.1" y="42.2" width="72.4" height="761.5" fill="#000"/>
<linearGradient id="hNi" x1="0" y1="42.2" x2="0" y2="803.7" gradientUnits="userSpaceOnUse"><stop offset="0.01" stop-color="#404000" stop-opacity="0"/><stop offset="0.03" stop-color="#404000" stop-opacity="0"/><stop offset="0.06" stop-color="#404000" stop-opacity="0"/><stop offset="0.08" stop-color="#404000" stop-opacity="0"/><stop offset="0.11" stop-color="#404000" stop-opacity="0.7"/><stop offset="0.13" stop-color="#404000" stop-opacity="1"/><stop offset="0.16" stop-color="#404000" stop-opacity="1"/><stop offset="0.19" stop-color="#404000" stop-opacity="1"/><stop offset="0.21" stop-color="#404000" stop-opacity="1"/><stop offset="0.24" stop-color="#404000" stop-opacity="1"/><stop offset="0.26" stop-color="#404000" stop-opacity="1"/><stop offset="0.29" stop-color="#404000" stop-opacity="0.7"/><stop offset="0.31" stop-color="#404000" stop-opacity="0"/><stop offset="0.34" stop-color="#404000" stop-opacity="0"/><stop offset="0.36" stop-color="#404000" stop-opacity="0"/><stop offset="0.39" stop-color="#404000" stop-opacity="0.7"/><stop offset="0.42" stop-color="#404000" stop-opacity="1"/><stop offset="0.44" stop-color="#404000" stop-opacity="1"/><stop offset="0.47" stop-color="#404000" stop-opacity="1"/><stop offset="0.49" stop-color="#404000" stop-opacity="1"/><stop offset="0.52" stop-color="#404000" stop-opacity="1"/><stop offset="0.54" stop-color="#404000" stop-opacity="1"/><stop offset="0.57" stop-color="#404000" stop-opacity="1"/><stop offset="0.6" stop-color="#404000" stop-opacity="0.8"/><stop offset="0.62" stop-color="#404000" stop-opacity="0"/><stop offset="0.65" stop-color="#404000" stop-opacity="0"/><stop offset="0.67" stop-color="#404000" stop-opacity="0"/><stop offset="0.7" stop-color="#404000" stop-opacity="0.6"/><stop offset="0.72" stop-color="#404000" stop-opacity="1"/><stop offset="0.75" stop-color="#404000" stop-opacity="1"/><stop offset="0.78" stop-color="#404000" stop-opacity="1"/><stop offset="0.8" stop-color="#404000" stop-opacity="1"/><stop offset="0.83" stop-color="#404000" stop-opacity="1"/><stop offset="0.85" stop-color="#404000" stop-opacity="1"/><stop offset="0.88" stop-color="#404000" stop-opacity="1"/><stop offset="0.9" stop-color="#404000" stop-opacity="0.8"/><stop offset="0.93" stop-color="#404000" stop-opacity="0"/><stop offset="0.95" stop-color="#404000" stop-opacity="0"/><stop offset="0.98" stop-color="#404000" stop-opacity="0"/></linearGradient>
<g clip-path="url(#cNi)"><rect x="155.1" y="42.2" width="72.4" height="761.5" fill="url(#hNi)"/><rect x="155.1" y="42.2" width="72.4" height="761.5" fill="#c0c000" filter="url(#sp)" opacity="0.3"/><rect x="155.1" y="42.2" width="72.4" height="761.5" filter="url(#nz)" opacity="1"/><use href="#dY" transform="translate(155.3 125) scale(8 8.6)" opacity="0.63"/><use href="#dY" transform="translate(173.7 124.8) scale(7.8 8.4)" opacity="0.66"/><use href="#dY" transform="translate(191.7 125) scale(8.5 9.2)" opacity="0.62"/><use href="#dY" transform="translate(209 124.2) scale(8 8.7)" opacity="0.59"/><use href="#dY" transform="translate(226.8 124.8) scale(7.8 8.4)" opacity="0.59"/><use href="#dY" transform="translate(155.7 143.7) scale(8 8.7)" opacity="0.88"/><use href="#dY" transform="translate(173.3 144.4) scale(8.8 9.6)" opacity="0.78"/><use href="#dY" transform="translate(191.2 144.2) scale(8.8 9.5)" opacity="0.94"/><use href="#dY" transform="translate(209.1 143.8) scale(8.1 8.8)" opacity="0.89"/><use href="#dY" transform="translate(227.5 144.3) scale(8.8 9.5)" opacity="0.78"/><use href="#dY" transform="translate(156.2 163.2) scale(7.9 8.5)" opacity="0.84"/><use href="#dY" transform="translate(173.4 163.4) scale(8.6 9.3)" opacity="0.95"/><use href="#dY" transform="translate(191.5 164.2) scale(8.7 9.3)" opacity="0.92"/><use href="#dY" transform="translate(209.3 164) scale(8.6 9.3)" opacity="0.95"/><use href="#dY" transform="translate(227.4 163.4) scale(8.6 9.3)" opacity="0.82"/><use href="#dY" transform="translate(156 182.6) scale(7.9 8.5)" opacity="0.96"/><use href="#dY" transform="translate(174.1 183.4) scale(8.6 9.3)" opacity="0.92"/><use href="#dY" transform="translate(192.4 183.2) scale(8.2 8.8)" opacity="0.99"/><use href="#dY" transform="translate(209.4 182.7) scale(8.3 9)" opacity="0.85"/><use href="#dY" transform="translate(228 183.8) scale(8.1 8.8)" opacity="0.82"/><use href="#dY" transform="translate(156.2 202.1) scale(8.5 9.2)" opacity="0.82"/><use href="#dY" transform="translate(174.6 202.6) scale(8.6 9.3)" opacity="0.97"/><use href="#dY" transform="translate(191.8 202.6) scale(8.2 8.9)" opacity="0.93"/><use href="#dY" transform="translate(209.8 203.1) scale(8.4 9.1)" opacity="0.88"/><use href="#dY" transform="translate(228.4 202.7) scale(7.9 8.6)" opacity="0.82"/><use href="#dY" transform="translate(156.1 222.2) scale(8 8.6)" opacity="0.8"/><use href="#dY" transform="translate(174.9 222.8) scale(8.7 9.4)" opacity="0.98"/><use href="#dY" transform="translate(192.8 221.7) scale(8.6 9.3)" opacity="0.92"/><use href="#dY" transform="translate(210.3 222.3) scale(7.9 8.6)" opacity="0.91"/><use href="#dY" transform="translate(228.6 222) scale(8.4 9.1)" opacity="0.89"/><use href="#dY" transform="translate(156 241.7) scale(8.4 9.1)" opacity="0.82"/><use href="#dY" transform="translate(174 241.9) scale(8 8.7)" opacity="0.93"/><use href="#dY" transform="translate(192.3 241.7) scale(8.3 8.9)" opacity="0.9"/><use href="#dY" transform="translate(209.8 241.8) scale(8.7 9.4)" opacity="0.82"/><use href="#dY" transform="translate(227.7 241.3) scale(7.9 8.5)" opacity="0.97"/><use href="#dY" transform="translate(156.7 261.4) scale(7.8 8.5)" opacity="0.63"/><use href="#dY" transform="translate(174.1 260.8) scale(8.3 9)" opacity="0.63"/><use href="#dY" transform="translate(192.4 261.7) scale(8.1 8.8)" opacity="0.56"/><use href="#dY" transform="translate(210.5 260.8) scale(8.5 9.2)" opacity="0.66"/><use href="#dY" transform="translate(228.9 261.7) scale(7.7 8.3)" opacity="0.66"/><use href="#dY" transform="translate(157.8 339) scale(8.6 9.2)" opacity="0.63"/><use href="#dY" transform="translate(175.5 339.3) scale(7.9 8.5)" opacity="0.55"/><use href="#dY" transform="translate(192.4 339.2) scale(7.8 8.4)" opacity="0.64"/><use href="#dY" transform="translate(211.2 339.6) scale(8.7 9.4)" opacity="0.61"/><use href="#dY" transform="translate(229.3 339.9) scale(8.7 9.4)" opacity="0.63"/><use href="#dY" transform="translate(157.2 359.4) scale(8.4 9.1)" opacity="0.95"/><use href="#dY" transform="translate(174.8 359.5) scale(8.5 9.2)" opacity="0.86"/><use href="#dY" transform="translate(193.4 358.5) scale(8.3 9)" opacity="0.79"/><use href="#dY" transform="translate(211.1 359.5) scale(7.7 8.3)" opacity="0.96"/><use href="#dY" transform="translate(229.2 358.9) scale(7.8 8.4)" opacity="0.84"/><use href="#dY" transform="translate(157 378.9) scale(7.7 8.3)" opacity="0.78"/><use href="#dY" transform="translate(175 378.7) scale(7.9 8.6)" opacity="0.9"/><use href="#dY" transform="translate(193.1 378.5) scale(8.7 9.4)" opacity="0.81"/><use href="#dY" transform="translate(211.4 377.9) scale(8.8 9.5)" opacity="0.96"/><use href="#dY" transform="translate(228.9 378.9) scale(8.2 8.9)" opacity="0.81"/><use href="#dY" transform="translate(157.2 397.9) scale(8.4 9.1)" opacity="0.96"/><use href="#dY" transform="translate(175.5 397.9) scale(8.7 9.3)" opacity="0.81"/><use href="#dY" transform="translate(193.9 397.8) scale(7.6 8.3)" opacity="0.91"/><use href="#dY" transform="translate(211 397.5) scale(8.3 9)" opacity="0.98"/><use href="#dY" transform="translate(228.8 398.1) scale(8.2 8.8)" opacity="0.86"/><use href="#dY" transform="translate(157.2 417) scale(8 8.6)" opacity="0.91"/><use href="#dY" transform="translate(175.6 417.1) scale(7.6 8.2)"/><use href="#dY" transform="translate(193.8 417.6) scale(7.9 8.5)" opacity="0.84"/><use href="#dY" transform="translate(211.2 418.1) scale(8.2 8.9)" opacity="0.91"/><use href="#dY" transform="translate(229.9 417.9) scale(8.3 8.9)" opacity="0.79"/><use href="#dY" transform="translate(158 436.8) scale(8 8.7)" opacity="0.92"/><use href="#dY" transform="translate(176.1 437.3) scale(8.8 9.5)" opacity="0.97"/><use href="#dY" transform="translate(193.5 437.1) scale(8.5 9.2)" opacity="0.95"/><use href="#dY" transform="translate(211.7 437) scale(8.3 8.9)" opacity="0.86"/><use href="#dY" transform="translate(229 437.7) scale(8 8.6)" opacity="0.85"/><use href="#dY" transform="translate(157.7 456.2) scale(8 8.6)" opacity="0.83"/><use href="#dY" transform="translate(175.3 456.5) scale(8.1 8.8)" opacity="0.97"/><use href="#dY" transform="translate(193.9 456.1) scale(7.8 8.4)" opacity="0.85"/><use href="#dY" transform="translate(211.5 456.7) scale(8.5 9.2)" opacity="0.85"/><use href="#dY" transform="translate(230.1 456.7) scale(8.8 9.5)" opacity="0.85"/><use href="#dY" transform="translate(158.2 476.5) scale(8 8.7)"/><use href="#dY" transform="translate(176 476.1) scale(7.6 8.2)" opacity="0.97"/><use href="#dY" transform="translate(194.4 475.6) scale(7.9 8.5)" opacity="0.84"/><use href="#dY" transform="translate(211.4 475.8) scale(8.5 9.1)" opacity="0.84"/><use href="#dY" transform="translate(229.6 476.6) scale(8.3 9)" opacity="0.82"/><use href="#dY" transform="translate(158.6 495.2) scale(8.3 9)" opacity="0.79"/><use href="#dY" transform="translate(176.6 495.2) scale(8 8.6)" opacity="0.78"/><use href="#dY" transform="translate(193.7 495.8) scale(8.7 9.4)" opacity="0.72"/><use href="#dY" transform="translate(212.5 496) scale(8 8.6)" opacity="0.66"/><use href="#dY" transform="translate(230.1 495.5) scale(8.4 9.1)" opacity="0.7"/><use href="#dY" transform="translate(158.3 573.8) scale(8 8.6)" opacity="0.55"/><use href="#dY" transform="translate(176.8 573.2) scale(8.2 8.8)" opacity="0.5"/><use href="#dY" transform="translate(195.1 573.3) scale(8.8 9.5)" opacity="0.54"/><use href="#dY" transform="translate(212.7 573.3) scale(8 8.6)" opacity="0.56"/><use href="#dY" transform="translate(230 573.3) scale(8.6 9.2)" opacity="0.49"/><use href="#dY" transform="translate(159 593.5) scale(8.3 8.9)" opacity="0.91"/><use href="#dY" transform="translate(177 593) scale(8.5 9.2)" opacity="0.85"/><use href="#dY" transform="translate(195 593.1) scale(8.6 9.2)" opacity="0.95"/><use href="#dY" transform="translate(213 593.1) scale(8.1 8.8)"/><use href="#dY" transform="translate(230.6 592.7) scale(7.7 8.3)" opacity="0.99"/><use href="#dY" transform="translate(159.4 612.5) scale(8.8 9.5)" opacity="0.86"/><use href="#dY" transform="translate(177.3 612.4) scale(7.6 8.2)" opacity="0.8"/><use href="#dY" transform="translate(194.4 612.5) scale(8.3 8.9)" opacity="0.89"/><use href="#dY" transform="translate(213.3 612.5) scale(7.7 8.4)" opacity="0.86"/><use href="#dY" transform="translate(231 612.3) scale(7.8 8.4)" opacity="0.98"/><use href="#dY" transform="translate(159.8 632.2) scale(8.4 9)" opacity="0.89"/><use href="#dY" transform="translate(177.5 632.9) scale(8 8.6)" opacity="0.88"/><use href="#dY" transform="translate(194.5 632.6) scale(7.6 8.2)" opacity="0.94"/><use href="#dY" transform="translate(212.8 632.5) scale(7.6 8.2)" opacity="0.97"/><use href="#dY" transform="translate(230.7 632.5) scale(8.8 9.5)" opacity="0.98"/><use href="#dY" transform="translate(159.1 651.6) scale(7.8 8.5)" opacity="0.88"/><use href="#dY" transform="translate(177.6 652.5) scale(7.9 8.6)" opacity="0.92"/><use href="#dY" transform="translate(194.8 652.3) scale(7.7 8.4)" opacity="0.91"/><use href="#dY" transform="translate(213.5 652.3) scale(8.5 9.2)" opacity="0.84"/><use href="#dY" transform="translate(230.7 652.4) scale(8.2 8.8)" opacity="0.85"/><use href="#dY" transform="translate(159.6 671.9) scale(8.3 9)" opacity="0.88"/><use href="#dY" transform="translate(177 671.8) scale(8 8.7)" opacity="0.97"/><use href="#dY" transform="translate(195.7 672) scale(8.7 9.4)" opacity="0.82"/><use href="#dY" transform="translate(212.9 672) scale(7.7 8.3)" opacity="0.79"/><use href="#dY" transform="translate(230.5 671.7) scale(7.7 8.4)" opacity="0.98"/><use href="#dY" transform="translate(159.8 691.5) scale(8 8.6)" opacity="0.8"/><use href="#dY" transform="translate(177.8 690.4) scale(8.8 9.5)" opacity="0.97"/><use href="#dY" transform="translate(195.1 690.4) scale(8.4 9.1)" opacity="0.95"/><use href="#dY" transform="translate(213.3 690.5) scale(8.1 8.8)" opacity="0.83"/><use href="#dY" transform="translate(230.6 691.4) scale(8 8.6)"/><use href="#dY" transform="translate(159.3 710.7) scale(7.8 8.4)" opacity="0.87"/><use href="#dY" transform="translate(177.2 710) scale(8.2 8.9)" opacity="0.94"/><use href="#dY" transform="translate(195.4 710.3) scale(8.7 9.4)" opacity="0.89"/><use href="#dY" transform="translate(213.1 710.8) scale(8.7 9.4)" opacity="0.99"/><use href="#dY" transform="translate(231.1 710) scale(7.9 8.5)" opacity="0.82"/><use href="#dY" transform="translate(159.8 729.4) scale(8 8.7)" opacity="0.72"/><use href="#dY" transform="translate(178 730.1) scale(8.3 8.9)" opacity="0.74"/><use href="#dY" transform="translate(195.9 730.3) scale(8.7 9.4)" opacity="0.8"/><use href="#dY" transform="translate(213.5 730.6) scale(8.1 8.7)" opacity="0.68"/><use href="#dY" transform="translate(231.3 729.6) scale(8.1 8.7)" opacity="0.69"/><rect x="155.1" y="42.2" width="72.4" height="761.5" filter="url(#nz)" opacity="0.2"/></g>
<rect x="231.2" y="42.2" width="72.9" height="761.5" fill="#000"/>
<linearGradient id="hSr" x1="0" y1="42.2" x2="0" y2="803.7" gradientUnits="userSpaceOnUse"><stop offset="0.02" stop-color="#002222" stop-opacity="1"/><stop offset="0.04" stop-color="#002222" stop-opacity="1"/><stop offset="0.07" stop-color="#002222" stop-opacity="1"/><stop offset="0.1" stop-color="#002222" stop-opacity="0.7"/><stop offset="0.12" stop-color="#002222" stop-opacity="0"/><stop offset="0.15" stop-color="#002222" stop-opacity="0"/><stop offset="0.17" stop-color="#002222" stop-opacity="0"/><stop offset="0.2" stop-color="#002222" stop-opacity="0"/><stop offset="0.22" stop-color="#002222" stop-opacity="0"/><stop offset="0.25" stop-color="#002222" stop-opacity="0"/><stop offset="0.28" stop-color="#002222" stop-opacity="0"/><stop offset="0.3" stop-color="#002222" stop-opacity="0.7"/><stop offset="0.33" stop-color="#002222" stop-opacity="1"/><stop offset="0.35" stop-color="#002222" stop-opacity="1"/><stop offset="0.38" stop-color="#002222" stop-opacity="0.8"/><stop offset="0.4" stop-color="#002222" stop-opacity="0.2"/><stop offset="0.43" stop-color="#002222" stop-opacity="0"/><stop offset="0.46" stop-color="#002222" stop-opacity="0"/><stop offset="0.48" stop-color="#002222" stop-opacity="0"/><stop offset="0.51" stop-color="#002222" stop-opacity="0"/><stop offset="0.53" stop-color="#002222" stop-opacity="0"/><stop offset="0.56" stop-color="#002222" stop-opacity="0"/><stop offset="0.58" stop-color="#002222" stop-opacity="0"/><stop offset="0.61" stop-color="#002222" stop-opacity="0.5"/><stop offset="0.63" stop-color="#002222" stop-opacity="1"/><stop offset="0.66" stop-color="#002222" stop-opacity="1"/><stop offset="0.69" stop-color="#002222" stop-opacity="0.8"/><stop offset="0.71" stop-color="#002222" stop-opacity="0.2"/><stop offset="0.74" stop-color="#002222" stop-opacity="0"/><stop offset="0.76" stop-color="#002222" stop-opacity="0"/><stop offset="0.79" stop-color="#002222" stop-opacity="0"/><stop offset="0.81" stop-color="#002222" stop-opacity="0"/><stop offset="0.84" stop-color="#002222" stop-opacity="0"/><stop offset="0.87" stop-color="#002222" stop-opacity="0"/><stop offset="0.89" stop-color="#002222" stop-opacity="0"/><stop offset="0.92" stop-color="#002222" stop-opacity="0.5"/><stop offset="0.94" stop-color="#002222" stop-opacity="1"/><stop offset="0.97" stop-color="#002222" stop-opacity="1"/><stop offset="0.99" stop-color="#002222" stop-opacity="1"/></linearGradient>
<g clip-path="url(#cSr)"><rect x="231.2" y="42.2" width="72.9" height="761.5" fill="url(#hSr)"/><rect x="231.2" y="42.2" width="72.9" height="761.5" fill="#00b0b0" filter="url(#sp)" opacity="0.2"/><rect x="231.2" y="42.2" width="72.9" height="761.5" filter="url(#nz)" opacity="1"/><use href="#dC" transform="translate(240.5 37.5) scale(7.5 8.1)" opacity="0.98"/><use href="#dC" transform="translate(258.1 36.9) scale(7.4 8)" opacity="0.83"/><use href="#dC" transform="translate(276.6 36.8) scale(8.3 9)" opacity="0.95"/><use href="#dC" transform="translate(294.3 37.4) scale(8 8.6)" opacity="0.85"/><use href="#dC" transform="translate(311.7 37.7) scale(7.2 7.8)" opacity="0.99"/><use href="#dC" transform="translate(240.6 57.1) scale(7.5 8.1)"/><use href="#dC" transform="translate(258.7 56.8) scale(8.1 8.7)" opacity="0.86"/><use href="#dC" transform="translate(276.3 56.7) scale(8 8.7)" opacity="0.91"/><use href="#dC" transform="translate(294.4 57) scale(7.5 8.1)" opacity="0.9"/><use href="#dC" transform="translate(311.8 57.2) scale(7.8 8.4)" opacity="0.98"/><use href="#dC" transform="translate(240.3 76.5) scale(8.3 9)" opacity="0.81"/><use href="#dC" transform="translate(258.6 76.1) scale(8.2 8.8)" opacity="0.9"/><use href="#dC" transform="translate(276 76.6) scale(7.8 8.4)" opacity="0.96"/><use href="#dC" transform="translate(294.7 75.9) scale(8.3 8.9)" opacity="0.98"/><use href="#dC" transform="translate(240.3 95.5) scale(7.5 8.1)" opacity="0.81"/><use href="#dC" transform="translate(258.5 95.9) scale(7.8 8.5)" opacity="0.96"/><use href="#dC" transform="translate(276.1 96.2) scale(8.4 9.1)" opacity="0.87"/><use href="#dC" transform="translate(294.4 96.3) scale(8.2 8.8)" opacity="0.89"/><use href="#dC" transform="translate(240.9 115.3) scale(7.6 8.2)" opacity="0.58"/><use href="#dC" transform="translate(258.7 115.6) scale(7.4 8)" opacity="0.55"/><use href="#dC" transform="translate(276.2 115.2) scale(8.1 8.7)" opacity="0.57"/><use href="#dC" transform="translate(294.4 115) scale(8.2 8.9)" opacity="0.58"/><use href="#dC" transform="translate(223.7 271.9) scale(8.2 8.8)" opacity="0.61"/><use href="#dC" transform="translate(241.8 271.6) scale(7.7 8.3)" opacity="0.55"/><use href="#dC" transform="translate(260.1 271.9) scale(7.7 8.3)" opacity="0.59"/><use href="#dC" transform="translate(278.1 271.8) scale(7.7 8.3)" opacity="0.6"/><use href="#dC" transform="translate(296.2 272) scale(8.4 9.1)" opacity="0.58"/><use href="#dC" transform="translate(224 291.1) scale(8.1 8.8)" opacity="0.8"/><use href="#dC" transform="translate(242.1 291.6) scale(8.3 9)" opacity="0.89"/><use href="#dC" transform="translate(259.4 291.2) scale(7.8 8.4)" opacity="0.91"/><use href="#dC" transform="translate(278.3 291.7) scale(7.8 8.4)" opacity="0.87"/><use href="#dC" transform="translate(295.7 291.7) scale(7.8 8.4)" opacity="0.89"/><use href="#dC" transform="translate(224.2 310.9) scale(8 8.7)" opacity="0.79"/><use href="#dC" transform="translate(242.6 310.5) scale(7.3 7.9)" opacity="0.95"/><use href="#dC" transform="translate(259.6 310.3) scale(7.3 7.9)" opacity="0.96"/><use href="#dC" transform="translate(278.3 311) scale(7.2 7.8)" opacity="0.9"/><use href="#dC" transform="translate(296.2 311) scale(7.2 7.8)" opacity="0.89"/><use href="#dC" transform="translate(225.1 329.9) scale(8.3 8.9)" opacity="0.77"/><use href="#dC" transform="translate(242.2 330.9) scale(7.2 7.8)" opacity="0.72"/><use href="#dC" transform="translate(260 330) scale(7.6 8.2)" opacity="0.67"/><use href="#dC" transform="translate(278.6 330.2) scale(7.8 8.4)" opacity="0.72"/><use href="#dC" transform="translate(295.5 330.7) scale(8.3 8.9)" opacity="0.68"/><use href="#dC" transform="translate(224.2 349.7) scale(7.8 8.5)" opacity="0.16"/><use href="#dC" transform="translate(242.5 349.7) scale(7.9 8.5)" opacity="0.18"/><use href="#dC" transform="translate(260.8 349.9) scale(8.3 9)" opacity="0.16"/><use href="#dC" transform="translate(277.8 349.8) scale(7.8 8.5)" opacity="0.17"/><use href="#dC" transform="translate(296.3 350.2) scale(7.5 8.1)" opacity="0.17"/><use href="#dC" transform="translate(226 506.6) scale(7.7 8.4)" opacity="0.46"/><use href="#dC" transform="translate(243.5 506) scale(7.2 7.8)" opacity="0.49"/><use href="#dC" transform="translate(261.6 505.6) scale(8.3 8.9)" opacity="0.4"/><use href="#dC" transform="translate(279.5 506.2) scale(8.3 9)" opacity="0.41"/><use href="#dC" transform="translate(297.6 506.3) scale(8 8.7)" opacity="0.44"/><use href="#dC" transform="translate(226.2 525.3) scale(8.3 9)" opacity="0.81"/><use href="#dC" transform="translate(243.2 526.2) scale(8.2 8.8)" opacity="0.8"/><use href="#dC" transform="translate(261.5 526.1) scale(7.5 8.1)" opacity="0.92"/><use href="#dC" transform="translate(279.7 525.9) scale(7.2 7.8)" opacity="0.81"/><use href="#dC" transform="translate(296.8 525.3) scale(7.5 8.1)" opacity="0.96"/><use href="#dC" transform="translate(226 544.9) scale(8.3 9)" opacity="0.81"/><use href="#dC" transform="translate(244.2 545.7) scale(8.2 8.8)" opacity="0.81"/><use href="#dC" transform="translate(261.6 545.3) scale(7.7 8.3)" opacity="0.79"/><use href="#dC" transform="translate(279.3 545.1) scale(7.3 7.9)" opacity="0.9"/><use href="#dC" transform="translate(297.8 544.7) scale(8 8.7)" opacity="0.87"/><use href="#dC" transform="translate(226.6 564.7) scale(8.3 9)" opacity="0.8"/><use href="#dC" transform="translate(243.7 564.7) scale(8.1 8.8)" opacity="0.69"/><use href="#dC" transform="translate(262.4 565.1) scale(7.8 8.4)" opacity="0.64"/><use href="#dC" transform="translate(279.9 564.3) scale(7.3 7.9)" opacity="0.72"/><use href="#dC" transform="translate(297.4 564.4) scale(8.2 8.9)" opacity="0.78"/><use href="#dC" transform="translate(226.3 584.8) scale(7.6 8.2)" opacity="0.2"/><use href="#dC" transform="translate(244.3 584.2) scale(7.6 8.2)" opacity="0.16"/><use href="#dC" transform="translate(261.7 584.6) scale(7.4 8)" opacity="0.19"/><use href="#dC" transform="translate(279.6 583.7) scale(7.9 8.5)" opacity="0.16"/><use href="#dC" transform="translate(297.8 584.2) scale(7.9 8.6)" opacity="0.19"/><use href="#dC" transform="translate(226.8 740.6) scale(7.3 7.9)" opacity="0.46"/><use href="#dC" transform="translate(245 740.1) scale(8 8.6)" opacity="0.43"/><use href="#dC" transform="translate(262.7 740.9) scale(7.6 8.2)" opacity="0.49"/><use href="#dC" transform="translate(281.4 740) scale(7.4 8)" opacity="0.44"/><use href="#dC" transform="translate(299.3 740.5) scale(7.8 8.4)" opacity="0.4"/><use href="#dC" transform="translate(227 759.8) scale(7.8 8.4)" opacity="0.9"/><use href="#dC" transform="translate(244.9 759.5) scale(7.4 8)" opacity="0.87"/><use href="#dC" transform="translate(262.9 760.5) scale(7.8 8.4)" opacity="0.97"/><use href="#dC" transform="translate(280.5 760.3) scale(7.8 8.4)" opacity="0.99"/><use href="#dC" transform="translate(299.1 760.3) scale(7.5 8.1)" opacity="0.93"/><use href="#dC" transform="translate(227 779.3) scale(7.8 8.4)" opacity="0.87"/><use href="#dC" transform="translate(245.9 779.2) scale(7.9 8.5)" opacity="0.8"/><use href="#dC" transform="translate(263.4 779) scale(8.1 8.7)" opacity="0.95"/><use href="#dC" transform="translate(280.9 779) scale(8.4 9.1)" opacity="0.91"/><use href="#dC" transform="translate(299.3 779.3) scale(8.2 8.8)" opacity="0.93"/><use href="#dC" transform="translate(228.2 798.9) scale(8.3 9)" opacity="0.78"/><use href="#dC" transform="translate(245.4 799.3) scale(7.5 8.1)" opacity="0.8"/><use href="#dC" transform="translate(263.7 798.6) scale(7.6 8.2)" opacity="0.81"/><use href="#dC" transform="translate(281 799.6) scale(7.6 8.2)" opacity="0.83"/><use href="#dC" transform="translate(299.8 799) scale(7.8 8.4)" opacity="0.95"/><use href="#dC" transform="translate(228.1 818.7) scale(7.4 8)" opacity="0.92"/><use href="#dC" transform="translate(246.1 818.8) scale(7.3 7.9)" opacity="0.95"/><use href="#dC" transform="translate(263.4 818.8) scale(8.4 9.1)" opacity="0.82"/><use href="#dC" transform="translate(281.8 819.1) scale(8.2 8.9)" opacity="0.81"/><use href="#dC" transform="translate(299.9 818.9) scale(8.2 8.9)" opacity="0.94"/><rect x="231.2" y="42.2" width="72.9" height="761.5" filter="url(#nz)" opacity="0.2"/></g>
<rect x="307.6" y="42.2" width="72.7" height="761.5" fill="#000"/>
<linearGradient id="hTi" x1="0" y1="42.2" x2="0" y2="803.7" gradientUnits="userSpaceOnUse"><stop offset="0.01" stop-color="#003407" stop-opacity="0.3"/><stop offset="0.03" stop-color="#003407" stop-opacity="1"/><stop offset="0.06" stop-color="#003407" stop-opacity="1"/><stop offset="0.08" stop-color="#003407" stop-opacity="1"/><stop offset="0.11" stop-color="#003407" stop-opacity="0.3"/><stop offset="0.13" stop-color="#003407" stop-opacity="0"/><stop offset="0.16" stop-color="#003407" stop-opacity="0"/><stop offset="0.19" stop-color="#003407" stop-opacity="0"/><stop offset="0.21" stop-color="#003407" stop-opacity="0"/><stop offset="0.24" stop-color="#003407" stop-opacity="0"/><stop offset="0.26" stop-color="#003407" stop-opacity="0"/><stop offset="0.29" stop-color="#003407" stop-opacity="0.4"/><stop offset="0.31" stop-color="#003407" stop-opacity="1"/><stop offset="0.34" stop-color="#003407" stop-opacity="1"/><stop offset="0.36" stop-color="#003407" stop-opacity="1"/><stop offset="0.39" stop-color="#003407" stop-opacity="0.6"/><stop offset="0.42" stop-color="#003407" stop-opacity="0"/><stop offset="0.44" stop-color="#003407" stop-opacity="0"/><stop offset="0.47" stop-color="#003407" stop-opacity="0"/><stop offset="0.49" stop-color="#003407" stop-opacity="0"/><stop offset="0.52" stop-color="#003407" stop-opacity="0"/><stop offset="0.54" stop-color="#003407" stop-opacity="0"/><stop offset="0.57" stop-color="#003407" stop-opacity="0"/><stop offset="0.6" stop-color="#003407" stop-opacity="0.3"/><stop offset="0.62" stop-color="#003407" stop-opacity="1"/><stop offset="0.65" stop-color="#003407" stop-opacity="1"/><stop offset="0.67" stop-color="#003407" stop-opacity="1"/><stop offset="0.7" stop-color="#003407" stop-opacity="0.8"/><stop offset="0.72" stop-color="#003407" stop-opacity="0"/><stop offset="0.75" stop-color="#003407" stop-opacity="0"/><stop offset="0.78" stop-color="#003407" stop-opacity="0"/><stop offset="0.8" stop-color="#003407" stop-opacity="0"/><stop offset="0.83" stop-color="#003407" stop-opacity="0"/><stop offset="0.85" stop-color="#003407" stop-opacity="0"/><stop offset="0.88" stop-color="#003407" stop-opacity="0"/><stop offset="0.9" stop-color="#003407" stop-opacity="0.5"/><stop offset="0.93" stop-color="#003407" stop-opacity="1"/><stop offset="0.95" stop-color="#003407" stop-opacity="1"/><stop offset="0.98" stop-color="#003407" stop-opacity="1"/></linearGradient>
<g clip-path="url(#cTi)"><rect x="307.6" y="42.2" width="72.7" height="761.5" fill="url(#hTi)"/><rect x="307.6" y="42.2" width="72.7" height="761.5" fill="#00a010" filter="url(#sp)" opacity="0.16"/><rect x="307.6" y="42.2" width="72.7" height="761.5" filter="url(#nz)" opacity="1"/><use href="#dT" transform="translate(308.7 47) scale(8 8.7)" opacity="0.29"/><use href="#dT" transform="translate(326.3 47) scale(7.8 8.4)" opacity="0.3"/><use href="#dT" transform="translate(344.5 46.2) scale(8.7 9.4)" opacity="0.25"/><use href="#dT" transform="translate(361.7 46.5) scale(8 8.6)" opacity="0.26"/><use href="#dT" transform="translate(380.4 46.4) scale(8.6 9.3)" opacity="0.28"/><use href="#dT" transform="translate(308.7 65.9) scale(8.7 9.4)" opacity="0.99"/><use href="#dT" transform="translate(325.9 65.8) scale(8.7 9.4)" opacity="0.92"/><use href="#dT" transform="translate(344.4 65.4) scale(8.7 9.4)" opacity="0.96"/><use href="#dT" transform="translate(362.2 66.4) scale(7.8 8.4)" opacity="0.78"/><use href="#dT" transform="translate(380 65.8) scale(8.2 8.9)" opacity="0.91"/><use href="#dT" transform="translate(309 85) scale(8 8.7)" opacity="0.92"/><use href="#dT" transform="translate(326.2 85.7) scale(8.2 8.9)" opacity="0.93"/><use href="#dT" transform="translate(344.8 85) scale(8.5 9.2)" opacity="0.81"/><use href="#dT" transform="translate(362.7 86.1) scale(8 8.6)" opacity="0.82"/><use href="#dT" transform="translate(380 85.7) scale(8.8 9.5)" opacity="0.83"/><use href="#dT" transform="translate(308.7 105.7) scale(8.3 9)" opacity="0.99"/><use href="#dT" transform="translate(326.3 105.1) scale(7.9 8.5)" opacity="0.96"/><use href="#dT" transform="translate(343.9 105) scale(8.9 9.6)" opacity="0.82"/><use href="#dT" transform="translate(362.8 104.6) scale(8.1 8.8)" opacity="0.84"/><use href="#dT" transform="translate(380.4 104.9) scale(8.3 9)" opacity="0.97"/><use href="#dT" transform="translate(309.1 124.5) scale(8.5 9.1)" opacity="0.24"/><use href="#dT" transform="translate(327.3 124.8) scale(8.5 9.2)" opacity="0.26"/><use href="#dT" transform="translate(344.5 125.1) scale(8.5 9.2)" opacity="0.27"/><use href="#dT" transform="translate(362.6 124.1) scale(8.9 9.6)" opacity="0.26"/><use href="#dT" transform="translate(380.9 124.5) scale(8.4 9)" opacity="0.28"/><use href="#dT" transform="translate(310.1 261.1) scale(7.7 8.3)" opacity="0.38"/><use href="#dT" transform="translate(327.3 260.9) scale(8.8 9.5)" opacity="0.4"/><use href="#dT" transform="translate(345.7 261.2) scale(7.7 8.3)" opacity="0.36"/><use href="#dT" transform="translate(363.8 261.6) scale(8 8.6)" opacity="0.37"/><use href="#dT" transform="translate(381.1 261.9) scale(8.2 8.9)" opacity="0.36"/><use href="#dT" transform="translate(310.1 281.1) scale(8.9 9.6)" opacity="0.86"/><use href="#dT" transform="translate(328.1 280.9) scale(7.9 8.5)" opacity="0.84"/><use href="#dT" transform="translate(346.1 280.4) scale(8.1 8.7)" opacity="0.95"/><use href="#dT" transform="translate(363.6 281.1) scale(7.9 8.5)" opacity="0.97"/><use href="#dT" transform="translate(381.1 280.6) scale(7.7 8.3)" opacity="0.85"/><use href="#dT" transform="translate(310.6 300.9) scale(8 8.7)" opacity="0.82"/><use href="#dT" transform="translate(327.6 299.9) scale(8.2 8.9)" opacity="0.85"/><use href="#dT" transform="translate(345.6 300.9) scale(8.1 8.8)" opacity="0.87"/><use href="#dT" transform="translate(363.5 300.3) scale(8.8 9.6)" opacity="0.82"/><use href="#dT" transform="translate(382.1 300.1) scale(8.7 9.4)" opacity="0.92"/><use href="#dT" transform="translate(310.2 320.2) scale(8.5 9.2)" opacity="0.9"/><use href="#dT" transform="translate(327.8 319.9) scale(8.9 9.6)" opacity="0.86"/><use href="#dT" transform="translate(345.7 320.2) scale(8 8.6)" opacity="0.92"/><use href="#dT" transform="translate(363.3 319.7) scale(8.4 9.1)" opacity="0.96"/><use href="#dT" transform="translate(382.3 319.4) scale(8 8.6)" opacity="0.84"/><use href="#dT" transform="translate(310.5 339) scale(8.7 9.4)" opacity="0.52"/><use href="#dT" transform="translate(328 339.6) scale(8.9 9.6)" opacity="0.55"/><use href="#dT" transform="translate(346.4 340) scale(8.2 8.8)" opacity="0.57"/><use href="#dT" transform="translate(364.3 339.8) scale(8.2 8.8)" opacity="0.51"/><use href="#dT" transform="translate(381.7 339.5) scale(8.8 9.5)" opacity="0.49"/><use href="#dT" transform="translate(311.9 495.1) scale(8.1 8.7)" opacity="0.24"/><use href="#dT" transform="translate(329.2 495.9) scale(8.8 9.5)" opacity="0.27"/><use href="#dT" transform="translate(347.3 495.4) scale(8.4 9.1)" opacity="0.26"/><use href="#dT" transform="translate(365.5 495.3) scale(8.7 9.4)" opacity="0.29"/><use href="#dT" transform="translate(383.2 496.1) scale(8.3 9)" opacity="0.28"/><use href="#dT" transform="translate(311.9 514.8) scale(8.8 9.5)" opacity="0.92"/><use href="#dT" transform="translate(329.7 514.9) scale(8.4 9.1)" opacity="0.93"/><use href="#dT" transform="translate(346.8 514.9) scale(8.7 9.4)" opacity="0.91"/><use href="#dT" transform="translate(364.9 515.4) scale(7.8 8.4)" opacity="0.83"/><use href="#dT" transform="translate(383.7 515.4) scale(8.1 8.8)" opacity="0.96"/><use href="#dT" transform="translate(311.4 534.3) scale(8.5 9.1)" opacity="0.78"/><use href="#dT" transform="translate(329.3 534.8) scale(8.2 8.9)" opacity="0.79"/><use href="#dT" transform="translate(347.8 534.3) scale(8.7 9.4)" opacity="0.79"/><use href="#dT" transform="translate(365 534.5) scale(8.1 8.7)" opacity="0.92"/><use href="#dT" transform="translate(383.3 534.4) scale(8.7 9.4)" opacity="0.83"/><use href="#dT" transform="translate(311.8 553.7) scale(8.7 9.4)" opacity="0.79"/><use href="#dT" transform="translate(329.7 554.4) scale(7.7 8.3)" opacity="0.87"/><use href="#dT" transform="translate(347.9 554.3) scale(8.2 8.8)" opacity="0.91"/><use href="#dT" transform="translate(365.6 554.9) scale(8.8 9.5)" opacity="0.83"/><use href="#dT" transform="translate(383.7 554.8) scale(8.1 8.7)" opacity="0.99"/><use href="#dT" transform="translate(311.5 574) scale(8.5 9.2)" opacity="0.7"/><use href="#dT" transform="translate(329.8 573.7) scale(7.9 8.5)" opacity="0.68"/><use href="#dT" transform="translate(347.5 573.8) scale(8.6 9.3)" opacity="0.66"/><use href="#dT" transform="translate(365.5 573.4) scale(8.6 9.3)" opacity="0.66"/><use href="#dT" transform="translate(383.2 574.4) scale(8.6 9.3)" opacity="0.72"/><use href="#dT" transform="translate(313.5 729.5) scale(8.6 9.3)" opacity="0.47"/><use href="#dT" transform="translate(330.5 730.3) scale(8.8 9.5)" opacity="0.39"/><use href="#dT" transform="translate(348.9 729.6) scale(8.1 8.8)" opacity="0.42"/><use href="#dT" transform="translate(366.8 729.5) scale(8 8.7)" opacity="0.5"/><use href="#dT" transform="translate(384.2 730.4) scale(8.8 9.5)" opacity="0.43"/><use href="#dT" transform="translate(312.6 749.5) scale(8.7 9.4)" opacity="0.81"/><use href="#dT" transform="translate(331.6 749.5) scale(8.7 9.4)" opacity="0.98"/><use href="#dT" transform="translate(349.3 749.6) scale(7.8 8.4)" opacity="0.81"/><use href="#dT" transform="translate(366.8 749) scale(8 8.6)" opacity="0.83"/><use href="#dT" transform="translate(385.2 750.1) scale(8.9 9.6)" opacity="0.94"/><use href="#dT" transform="translate(313.1 768.7) scale(8.8 9.5)" opacity="0.96"/><use href="#dT" transform="translate(330.6 768.9) scale(8.4 9.1)" opacity="0.83"/><use href="#dT" transform="translate(348.5 769) scale(8.7 9.4)" opacity="0.96"/><use href="#dT" transform="translate(366.4 768.6) scale(8.3 9)" opacity="0.98"/><use href="#dT" transform="translate(384.6 769.1) scale(8.8 9.5)" opacity="0.92"/><use href="#dT" transform="translate(313.1 788.1) scale(8.1 8.8)" opacity="0.98"/><use href="#dT" transform="translate(331.4 788.6) scale(7.9 8.5)" opacity="0.81"/><use href="#dT" transform="translate(349.3 788.5) scale(8.6 9.3)" opacity="0.92"/><use href="#dT" transform="translate(366.6 788.6) scale(7.7 8.3)" opacity="0.94"/><use href="#dT" transform="translate(384.9 788.3) scale(8.6 9.3)" opacity="0.93"/><use href="#dT" transform="translate(313.5 808.3) scale(8.8 9.6)" opacity="0.81"/><use href="#dT" transform="translate(330.9 807.8) scale(8.9 9.7)" opacity="0.83"/><use href="#dT" transform="translate(349.2 808.3) scale(8.7 9.4)" opacity="0.95"/><use href="#dT" transform="translate(367.5 808.7) scale(7.8 8.4)" opacity="0.79"/><use href="#dT" transform="translate(385.5 807.8) scale(7.7 8.3)" opacity="0.79"/><rect x="307.6" y="42.2" width="72.7" height="761.5" filter="url(#nz)" opacity="0.2"/></g>
<rect x="383.3" y="41.5" width="72.6" height="762.2" fill="#000"/>
<linearGradient id="hO" x1="0" y1="41.5" x2="0" y2="803.7" gradientUnits="userSpaceOnUse"><stop offset="0.01" stop-color="#c80000" stop-opacity="0.15"/><stop offset="0.03" stop-color="#c80000" stop-opacity="0.5"/><stop offset="0.06" stop-color="#c80000" stop-opacity="0.5"/><stop offset="0.08" stop-color="#c80000" stop-opacity="0.5"/><stop offset="0.11" stop-color="#c80000" stop-opacity="0.15"/><stop offset="0.13" stop-color="#c80000" stop-opacity="0"/><stop offset="0.16" stop-color="#c80000" stop-opacity="0"/><stop offset="0.19" stop-color="#c80000" stop-opacity="0"/><stop offset="0.21" stop-color="#c80000" stop-opacity="0"/><stop offset="0.24" stop-color="#c80000" stop-opacity="0"/><stop offset="0.26" stop-color="#c80000" stop-opacity="0"/><stop offset="0.29" stop-color="#c80000" stop-opacity="0.2"/><stop offset="0.31" stop-color="#c80000" stop-opacity="0.5"/><stop offset="0.34" stop-color="#c80000" stop-opacity="0.5"/><stop offset="0.37" stop-color="#c80000" stop-opacity="0.5"/><stop offset="0.39" stop-color="#c80000" stop-opacity="0.3"/><stop offset="0.42" stop-color="#c80000" stop-opacity="0"/><stop offset="0.44" stop-color="#c80000" stop-opacity="0"/><stop offset="0.47" stop-color="#c80000" stop-opacity="0"/><stop offset="0.49" stop-color="#c80000" stop-opacity="0"/><stop offset="0.52" stop-color="#c80000" stop-opacity="0"/><stop offset="0.54" stop-color="#c80000" stop-opacity="0"/><stop offset="0.57" stop-color="#c80000" stop-opacity="0"/><stop offset="0.6" stop-color="#c80000" stop-opacity="0.15"/><stop offset="0.62" stop-color="#c80000" stop-opacity="0.5"/><stop offset="0.65" stop-color="#c80000" stop-opacity="0.5"/><stop offset="0.67" stop-color="#c80000" stop-opacity="0.5"/><stop offset="0.7" stop-color="#c80000" stop-opacity="0.4"/><stop offset="0.72" stop-color="#c80000" stop-opacity="0"/><stop offset="0.75" stop-color="#c80000" stop-opacity="0"/><stop offset="0.78" stop-color="#c80000" stop-opacity="0"/><stop offset="0.8" stop-color="#c80000" stop-opacity="0"/><stop offset="0.83" stop-color="#c80000" stop-opacity="0"/><stop offset="0.85" stop-color="#c80000" stop-opacity="0"/><stop offset="0.88" stop-color="#c80000" stop-opacity="0"/><stop offset="0.9" stop-color="#c80000" stop-opacity="0.25"/><stop offset="0.93" stop-color="#c80000" stop-opacity="0.5"/><stop offset="0.95" stop-color="#c80000" stop-opacity="0.5"/><stop offset="0.98" stop-color="#c80000" stop-opacity="0.5"/></linearGradient>
<g clip-path="url(#cO)"><rect x="383.3" y="41.5" width="72.6" height="762.2" fill="#8e0000"/><rect x="383.3" y="41.5" width="72.6" height="762.2" fill="url(#hO)"/><rect x="383.3" y="41.5" width="72.6" height="762.2" filter="url(#nz)" opacity="0.35"/><use href="#dR" transform="translate(366.3 46.5) scale(8.6 7.4)" opacity="0.24"/><use href="#dR" transform="translate(384.2 46.5) scale(8.6 7.4)" opacity="0.28"/><use href="#dR" transform="translate(402.1 46.5) scale(8.6 7.4)" opacity="0.29"/><use href="#dR" transform="translate(420 46.5) scale(8.6 7.4)" opacity="0.27"/><use href="#dR" transform="translate(437.9 46.5) scale(8.6 7.4)" opacity="0.29"/><use href="#dR" transform="translate(455.8 46.5) scale(8.6 7.4)" opacity="0.24"/><use href="#dR" transform="translate(473.7 46.5) scale(8.6 7.4)" opacity="0.24"/><use href="#dR" transform="translate(366.5 66) scale(8.6 7.4)" opacity="0.75"/><use href="#dR" transform="translate(384.4 66) scale(8.6 7.4)" opacity="0.94"/><use href="#dR" transform="translate(402.3 66) scale(8.6 7.4)" opacity="0.78"/><use href="#dR" transform="translate(420.2 66) scale(8.6 7.4)" opacity="0.99"/><use href="#dR" transform="translate(438.1 66) scale(8.6 7.4)" opacity="0.93"/><use href="#dR" transform="translate(456 66) scale(8.6 7.4)" opacity="0.8"/><use href="#dR" transform="translate(473.9 66) scale(8.6 7.4)" opacity="0.95"/><use href="#dR" transform="translate(366.6 85.5) scale(8.6 7.4)" opacity="0.79"/><use href="#dR" transform="translate(384.5 85.5) scale(8.6 7.4)" opacity="0.88"/><use href="#dR" transform="translate(402.4 85.5) scale(8.6 7.4)" opacity="0.78"/><use href="#dR" transform="translate(420.3 85.5) scale(8.6 7.4)" opacity="0.95"/><use href="#dR" transform="translate(438.2 85.5) scale(8.6 7.4)" opacity="0.97"/><use href="#dR" transform="translate(456.1 85.5) scale(8.6 7.4)" opacity="0.98"/><use href="#dR" transform="translate(474 85.5) scale(8.6 7.4)" opacity="0.75"/><use href="#dR" transform="translate(366.7 105.1) scale(8.6 7.4)" opacity="0.96"/><use href="#dR" transform="translate(384.6 105.1) scale(8.6 7.4)" opacity="0.89"/><use href="#dR" transform="translate(402.5 105.1) scale(8.6 7.4)" opacity="0.96"/><use href="#dR" transform="translate(420.4 105.1) scale(8.6 7.4)" opacity="0.88"/><use href="#dR" transform="translate(438.3 105.1) scale(8.6 7.4)" opacity="0.9"/><use href="#dR" transform="translate(456.2 105.1) scale(8.6 7.4)" opacity="0.9"/><use href="#dR" transform="translate(474.1 105.1) scale(8.6 7.4)" opacity="0.95"/><use href="#dR" transform="translate(366.9 124.6) scale(8.6 7.4)" opacity="0.23"/><use href="#dR" transform="translate(384.8 124.6) scale(8.6 7.4)" opacity="0.23"/><use href="#dR" transform="translate(402.7 124.6) scale(8.6 7.4)" opacity="0.27"/><use href="#dR" transform="translate(420.6 124.6) scale(8.6 7.4)" opacity="0.25"/><use href="#dR" transform="translate(438.5 124.6) scale(8.6 7.4)" opacity="0.25"/><use href="#dR" transform="translate(456.4 124.6) scale(8.6 7.4)" opacity="0.23"/><use href="#dR" transform="translate(474.3 124.6) scale(8.6 7.4)" opacity="0.28"/><use href="#dR" transform="translate(367.8 261.3) scale(8.6 7.4)" opacity="0.3"/><use href="#dR" transform="translate(385.7 261.3) scale(8.6 7.4)" opacity="0.38"/><use href="#dR" transform="translate(403.6 261.3) scale(8.6 7.4)" opacity="0.38"/><use href="#dR" transform="translate(421.5 261.3) scale(8.6 7.4)" opacity="0.35"/><use href="#dR" transform="translate(439.4 261.3) scale(8.6 7.4)" opacity="0.31"/><use href="#dR" transform="translate(457.3 261.3) scale(8.6 7.4)" opacity="0.37"/><use href="#dR" transform="translate(475.2 261.3) scale(8.6 7.4)" opacity="0.32"/><use href="#dR" transform="translate(367.9 280.8) scale(8.6 7.4)" opacity="0.86"/><use href="#dR" transform="translate(385.8 280.8) scale(8.6 7.4)" opacity="0.78"/><use href="#dR" transform="translate(403.7 280.8) scale(8.6 7.4)" opacity="0.99"/><use href="#dR" transform="translate(421.6 280.8) scale(8.6 7.4)" opacity="0.89"/><use href="#dR" transform="translate(439.5 280.8) scale(8.6 7.4)" opacity="0.84"/><use href="#dR" transform="translate(457.4 280.8) scale(8.6 7.4)" opacity="0.77"/><use href="#dR" transform="translate(475.3 280.8) scale(8.6 7.4)" opacity="0.93"/><use href="#dR" transform="translate(368.1 300.4) scale(8.6 7.4)" opacity="0.96"/><use href="#dR" transform="translate(386 300.4) scale(8.6 7.4)" opacity="0.96"/><use href="#dR" transform="translate(403.9 300.4) scale(8.6 7.4)" opacity="0.78"/><use href="#dR" transform="translate(421.8 300.4) scale(8.6 7.4)" opacity="0.84"/><use href="#dR" transform="translate(439.7 300.4) scale(8.6 7.4)" opacity="0.83"/><use href="#dR" transform="translate(457.6 300.4) scale(8.6 7.4)" opacity="0.94"/><use href="#dR" transform="translate(475.5 300.4) scale(8.6 7.4)" opacity="0.79"/><use href="#dR" transform="translate(368.2 319.9) scale(8.6 7.4)" opacity="0.9"/><use href="#dR" transform="translate(386.1 319.9) scale(8.6 7.4)" opacity="0.99"/><use href="#dR" transform="translate(404 319.9) scale(8.6 7.4)" opacity="0.94"/><use href="#dR" transform="translate(421.9 319.9) scale(8.6 7.4)" opacity="0.75"/><use href="#dR" transform="translate(439.8 319.9) scale(8.6 7.4)" opacity="0.77"/><use href="#dR" transform="translate(457.7 319.9) scale(8.6 7.4)" opacity="0.78"/><use href="#dR" transform="translate(475.6 319.9) scale(8.6 7.4)" opacity="0.92"/><use href="#dR" transform="translate(368.3 339.4) scale(8.6 7.4)" opacity="0.54"/><use href="#dR" transform="translate(386.2 339.4) scale(8.6 7.4)" opacity="0.53"/><use href="#dR" transform="translate(404.1 339.4) scale(8.6 7.4)" opacity="0.52"/><use href="#dR" transform="translate(422 339.4) scale(8.6 7.4)" opacity="0.51"/><use href="#dR" transform="translate(439.9 339.4) scale(8.6 7.4)" opacity="0.54"/><use href="#dR" transform="translate(457.8 339.4) scale(8.6 7.4)" opacity="0.55"/><use href="#dR" transform="translate(475.7 339.4) scale(8.6 7.4)" opacity="0.59"/><use href="#dR" transform="translate(369.4 495.7) scale(8.6 7.4)" opacity="0.28"/><use href="#dR" transform="translate(387.3 495.7) scale(8.6 7.4)" opacity="0.28"/><use href="#dR" transform="translate(405.2 495.7) scale(8.6 7.4)" opacity="0.29"/><use href="#dR" transform="translate(423.1 495.7) scale(8.6 7.4)" opacity="0.29"/><use href="#dR" transform="translate(441 495.7) scale(8.6 7.4)" opacity="0.28"/><use href="#dR" transform="translate(458.9 495.7) scale(8.6 7.4)" opacity="0.23"/><use href="#dR" transform="translate(476.8 495.7) scale(8.6 7.4)" opacity="0.28"/><use href="#dR" transform="translate(369.5 515.2) scale(8.6 7.4)" opacity="0.96"/><use href="#dR" transform="translate(387.4 515.2) scale(8.6 7.4)" opacity="0.86"/><use href="#dR" transform="translate(405.3 515.2) scale(8.6 7.4)" opacity="0.97"/><use href="#dR" transform="translate(423.2 515.2) scale(8.6 7.4)" opacity="0.79"/><use href="#dR" transform="translate(441.1 515.2) scale(8.6 7.4)" opacity="0.99"/><use href="#dR" transform="translate(459 515.2) scale(8.6 7.4)" opacity="0.86"/><use href="#dR" transform="translate(476.9 515.2) scale(8.6 7.4)" opacity="0.93"/><use href="#dR" transform="translate(369.7 534.7) scale(8.6 7.4)" opacity="0.81"/><use href="#dR" transform="translate(387.6 534.7) scale(8.6 7.4)" opacity="0.83"/><use href="#dR" transform="translate(405.5 534.7) scale(8.6 7.4)" opacity="0.84"/><use href="#dR" transform="translate(423.4 534.7) scale(8.6 7.4)" opacity="0.83"/><use href="#dR" transform="translate(441.3 534.7) scale(8.6 7.4)" opacity="0.77"/><use href="#dR" transform="translate(459.2 534.7) scale(8.6 7.4)" opacity="0.86"/><use href="#dR" transform="translate(477.1 534.7) scale(8.6 7.4)"/><use href="#dR" transform="translate(369.8 554.3) scale(8.6 7.4)" opacity="0.91"/><use href="#dR" transform="translate(387.7 554.3) scale(8.6 7.4)" opacity="0.98"/><use href="#dR" transform="translate(405.6 554.3) scale(8.6 7.4)" opacity="0.94"/><use href="#dR" transform="translate(423.5 554.3) scale(8.6 7.4)" opacity="0.96"/><use href="#dR" transform="translate(441.4 554.3) scale(8.6 7.4)"/><use href="#dR" transform="translate(459.3 554.3) scale(8.6 7.4)" opacity="0.94"/><use href="#dR" transform="translate(477.2 554.3) scale(8.6 7.4)" opacity="0.82"/><use href="#dR" transform="translate(369.9 573.8) scale(8.6 7.4)" opacity="0.65"/><use href="#dR" transform="translate(387.8 573.8) scale(8.6 7.4)" opacity="0.68"/><use href="#dR" transform="translate(405.7 573.8) scale(8.6 7.4)" opacity="0.6"/><use href="#dR" transform="translate(423.6 573.8) scale(8.6 7.4)" opacity="0.65"/><use href="#dR" transform="translate(441.5 573.8) scale(8.6 7.4)" opacity="0.78"/><use href="#dR" transform="translate(459.4 573.8) scale(8.6 7.4)" opacity="0.78"/><use href="#dR" transform="translate(477.3 573.8) scale(8.6 7.4)" opacity="0.67"/><use href="#dR" transform="translate(371 730) scale(8.6 7.4)" opacity="0.47"/><use href="#dR" transform="translate(388.9 730) scale(8.6 7.4)" opacity="0.47"/><use href="#dR" transform="translate(406.8 730) scale(8.6 7.4)" opacity="0.49"/><use href="#dR" transform="translate(424.7 730) scale(8.6 7.4)" opacity="0.47"/><use href="#dR" transform="translate(442.6 730) scale(8.6 7.4)" opacity="0.44"/><use href="#dR" transform="translate(460.5 730) scale(8.6 7.4)" opacity="0.39"/><use href="#dR" transform="translate(478.4 730) scale(8.6 7.4)" opacity="0.48"/><use href="#dR" transform="translate(371.1 749.6) scale(8.6 7.4)" opacity="0.83"/><use href="#dR" transform="translate(389 749.6) scale(8.6 7.4)" opacity="0.91"/><use href="#dR" transform="translate(406.9 749.6) scale(8.6 7.4)" opacity="0.84"/><use href="#dR" transform="translate(424.8 749.6) scale(8.6 7.4)" opacity="0.88"/><use href="#dR" transform="translate(442.7 749.6) scale(8.6 7.4)" opacity="0.99"/><use href="#dR" transform="translate(460.6 749.6) scale(8.6 7.4)" opacity="0.79"/><use href="#dR" transform="translate(478.5 749.6) scale(8.6 7.4)" opacity="0.88"/><use href="#dR" transform="translate(371.2 769.1) scale(8.6 7.4)" opacity="0.91"/><use href="#dR" transform="translate(389.1 769.1) scale(8.6 7.4)" opacity="0.88"/><use href="#dR" transform="translate(407 769.1) scale(8.6 7.4)" opacity="0.98"/><use href="#dR" transform="translate(424.9 769.1) scale(8.6 7.4)" opacity="0.85"/><use href="#dR" transform="translate(442.8 769.1) scale(8.6 7.4)" opacity="0.98"/><use href="#dR" transform="translate(460.7 769.1) scale(8.6 7.4)" opacity="0.92"/><use href="#dR" transform="translate(478.6 769.1) scale(8.6 7.4)" opacity="0.99"/><use href="#dR" transform="translate(371.4 788.6) scale(8.6 7.4)" opacity="0.77"/><use href="#dR" transform="translate(389.3 788.6) scale(8.6 7.4)" opacity="0.8"/><use href="#dR" transform="translate(407.2 788.6) scale(8.6 7.4)" opacity="0.82"/><use href="#dR" transform="translate(425.1 788.6) scale(8.6 7.4)" opacity="0.98"/><use href="#dR" transform="translate(443 788.6) scale(8.6 7.4)" opacity="0.75"/><use href="#dR" transform="translate(460.9 788.6) scale(8.6 7.4)" opacity="0.82"/><use href="#dR" transform="translate(478.8 788.6) scale(8.6 7.4)" opacity="0.93"/><use href="#dR" transform="translate(371.5 808.2) scale(8.6 7.4)"/><use href="#dR" transform="translate(389.4 808.2) scale(8.6 7.4)" opacity="0.79"/><use href="#dR" transform="translate(407.3 808.2) scale(8.6 7.4)" opacity="0.86"/><use href="#dR" transform="translate(425.2 808.2) scale(8.6 7.4)" opacity="0.92"/><use href="#dR" transform="translate(443.1 808.2) scale(8.6 7.4)" opacity="0.92"/><use href="#dR" transform="translate(461 808.2) scale(8.6 7.4)" opacity="0.94"/><use href="#dR" transform="translate(478.9 808.2) scale(8.6 7.4)" opacity="0.94"/><use href="#dK" transform="translate(374.7 37.4) scale(6.8 7.2)" opacity="0.83"/><use href="#dK" transform="translate(392.3 37.4) scale(6.8 7.2)" opacity="0.91"/><use href="#dK" transform="translate(410.4 37.4) scale(6.8 7.2)" opacity="0.83"/><use href="#dK" transform="translate(429.2 37.4) scale(6.8 7.2)" opacity="0.9"/><use href="#dK" transform="translate(446.7 37.4) scale(6.8 7.2)" opacity="0.9"/><use href="#dK" transform="translate(464.6 37.4) scale(6.8 7.2)" opacity="0.91"/><use href="#dK" transform="translate(482.1 37.4) scale(6.8 7.2)" opacity="0.79"/><use href="#dK" transform="translate(374.6 56.9) scale(6.8 7.2)" opacity="0.78"/><use href="#dK" transform="translate(392.8 56.9) scale(6.8 7.2)" opacity="0.8"/><use href="#dK" transform="translate(410.4 56.9) scale(6.8 7.2)" opacity="0.87"/><use href="#dK" transform="translate(429.4 56.9) scale(6.8 7.2)" opacity="0.91"/><use href="#dK" transform="translate(446.4 56.9) scale(6.8 7.2)" opacity="0.93"/><use href="#dK" transform="translate(464.2 56.9) scale(6.8 7.2)" opacity="0.8"/><use href="#dK" transform="translate(482.3 56.9) scale(6.8 7.2)" opacity="0.86"/><use href="#dK" transform="translate(375.5 76.4) scale(6.8 7.2)" opacity="0.86"/><use href="#dK" transform="translate(393.4 76.4) scale(6.8 7.2)" opacity="0.79"/><use href="#dK" transform="translate(411.6 76.4) scale(6.8 7.2)" opacity="0.84"/><use href="#dK" transform="translate(429.3 76.4) scale(6.8 7.2)" opacity="0.78"/><use href="#dK" transform="translate(447.2 76.4) scale(6.8 7.2)" opacity="0.82"/><use href="#dK" transform="translate(465.2 76.4) scale(6.8 7.2)" opacity="0.93"/><use href="#dK" transform="translate(482.8 76.4) scale(6.8 7.2)" opacity="0.83"/><use href="#dK" transform="translate(374.8 96) scale(6.8 7.2)" opacity="0.81"/><use href="#dK" transform="translate(393.8 96) scale(6.8 7.2)" opacity="0.81"/><use href="#dK" transform="translate(411.4 96) scale(6.8 7.2)" opacity="0.89"/><use href="#dK" transform="translate(429.3 96) scale(6.8 7.2)" opacity="0.81"/><use href="#dK" transform="translate(446.5 96) scale(6.8 7.2)" opacity="0.79"/><use href="#dK" transform="translate(465.4 96) scale(6.8 7.2)" opacity="0.85"/><use href="#dK" transform="translate(482.9 96) scale(6.8 7.2)" opacity="0.89"/><use href="#dK" transform="translate(375.2 115.5) scale(6.8 7.2)" opacity="0.73"/><use href="#dK" transform="translate(392.8 115.5) scale(6.8 7.2)" opacity="0.87"/><use href="#dK" transform="translate(410.9 115.5) scale(6.8 7.2)" opacity="0.89"/><use href="#dK" transform="translate(429 115.5) scale(6.8 7.2)" opacity="0.85"/><use href="#dK" transform="translate(446.7 115.5) scale(6.8 7.2)" opacity="0.86"/><use href="#dK" transform="translate(464.7 115.5) scale(6.8 7.2)" opacity="0.78"/><use href="#dK" transform="translate(482.9 115.5) scale(6.8 7.2)" opacity="0.74"/><use href="#dK" transform="translate(375.3 135) scale(6.8 7.2)" opacity="0.69"/><use href="#dK" transform="translate(393.3 135) scale(6.8 7.2)" opacity="0.63"/><use href="#dK" transform="translate(411.8 135) scale(6.8 7.2)" opacity="0.61"/><use href="#dK" transform="translate(429 135) scale(6.8 7.2)" opacity="0.61"/><use href="#dK" transform="translate(447.1 135) scale(6.8 7.2)" opacity="0.63"/><use href="#dK" transform="translate(465.3 135) scale(6.8 7.2)" opacity="0.64"/><use href="#dK" transform="translate(483.5 135) scale(6.8 7.2)" opacity="0.58"/><use href="#dK" transform="translate(376 154.6) scale(6.8 7.2)" opacity="0.7"/><use href="#dK" transform="translate(393.3 154.6) scale(6.8 7.2)" opacity="0.58"/><use href="#dK" transform="translate(411.5 154.6) scale(6.8 7.2)" opacity="0.59"/><use href="#dK" transform="translate(429.4 154.6) scale(6.8 7.2)" opacity="0.68"/><use href="#dK" transform="translate(446.9 154.6) scale(6.8 7.2)" opacity="0.59"/><use href="#dK" transform="translate(465.2 154.6) scale(6.8 7.2)" opacity="0.6"/><use href="#dK" transform="translate(482.8 154.6) scale(6.8 7.2)" opacity="0.64"/><use href="#dK" transform="translate(375.4 174.1) scale(6.8 7.2)" opacity="0.59"/><use href="#dK" transform="translate(393.6 174.1) scale(6.8 7.2)" opacity="0.64"/><use href="#dK" transform="translate(412.2 174.1) scale(6.8 7.2)" opacity="0.66"/><use href="#dK" transform="translate(429.1 174.1) scale(6.8 7.2)" opacity="0.61"/><use href="#dK" transform="translate(447.8 174.1) scale(6.8 7.2)" opacity="0.66"/><use href="#dK" transform="translate(465.8 174.1) scale(6.8 7.2)" opacity="0.71"/><use href="#dK" transform="translate(483.7 174.1) scale(6.8 7.2)" opacity="0.59"/><use href="#dK" transform="translate(376.6 193.6) scale(6.8 7.2)" opacity="0.65"/><use href="#dK" transform="translate(393.6 193.6) scale(6.8 7.2)" opacity="0.6"/><use href="#dK" transform="translate(412.3 193.6) scale(6.8 7.2)" opacity="0.61"/><use href="#dK" transform="translate(429.2 193.6) scale(6.8 7.2)" opacity="0.61"/><use href="#dK" transform="translate(448.1 193.6) scale(6.8 7.2)" opacity="0.64"/><use href="#dK" transform="translate(465.8 193.6) scale(6.8 7.2)" opacity="0.59"/><use href="#dK" transform="translate(483.4 193.6) scale(6.8 7.2)" opacity="0.62"/><use href="#dK" transform="translate(375.8 213.2) scale(6.8 7.2)" opacity="0.67"/><use href="#dK" transform="translate(393.9 213.2) scale(6.8 7.2)" opacity="0.59"/><use href="#dK" transform="translate(412.5 213.2) scale(6.8 7.2)" opacity="0.65"/><use href="#dK" transform="translate(429.5 213.2) scale(6.8 7.2)" opacity="0.58"/><use href="#dK" transform="translate(447.9 213.2) scale(6.8 7.2)" opacity="0.65"/><use href="#dK" transform="translate(465.1 213.2) scale(6.8 7.2)" opacity="0.64"/><use href="#dK" transform="translate(483.9 213.2) scale(6.8 7.2)" opacity="0.65"/><use href="#dK" transform="translate(376 232.7) scale(6.8 7.2)" opacity="0.65"/><use href="#dK" transform="translate(394.3 232.7) scale(6.8 7.2)" opacity="0.67"/><use href="#dK" transform="translate(411.7 232.7) scale(6.8 7.2)" opacity="0.69"/><use href="#dK" transform="translate(430.5 232.7) scale(6.8 7.2)" opacity="0.68"/><use href="#dK" transform="translate(448.3 232.7) scale(6.8 7.2)" opacity="0.63"/><use href="#dK" transform="translate(466.3 232.7) scale(6.8 7.2)" opacity="0.6"/><use href="#dK" transform="translate(483.4 232.7) scale(6.8 7.2)" opacity="0.66"/><use href="#dK" transform="translate(376.9 252.2) scale(6.8 7.2)" opacity="0.59"/><use href="#dK" transform="translate(394 252.2) scale(6.8 7.2)" opacity="0.58"/><use href="#dK" transform="translate(412.2 252.2) scale(6.8 7.2)" opacity="0.6"/><use href="#dK" transform="translate(429.8 252.2) scale(6.8 7.2)" opacity="0.68"/><use href="#dK" transform="translate(448.1 252.2) scale(6.8 7.2)" opacity="0.71"/><use href="#dK" transform="translate(465.8 252.2) scale(6.8 7.2)" opacity="0.67"/><use href="#dK" transform="translate(483.2 252.2) scale(6.8 7.2)" opacity="0.71"/><use href="#dK" transform="translate(376.2 271.7) scale(6.8 7.2)" opacity="0.8"/><use href="#dK" transform="translate(394.5 271.7) scale(6.8 7.2)" opacity="0.89"/><use href="#dK" transform="translate(412.4 271.7) scale(6.8 7.2)" opacity="0.89"/><use href="#dK" transform="translate(430.4 271.7) scale(6.8 7.2)" opacity="0.75"/><use href="#dK" transform="translate(448.6 271.7) scale(6.8 7.2)" opacity="0.75"/><use href="#dK" transform="translate(466.7 271.7) scale(6.8 7.2)" opacity="0.8"/><use href="#dK" transform="translate(483.6 271.7) scale(6.8 7.2)" opacity="0.89"/><use href="#dK" transform="translate(376.5 291.3) scale(6.8 7.2)" opacity="0.85"/><use href="#dK" transform="translate(394.4 291.3) scale(6.8 7.2)" opacity="0.91"/><use href="#dK" transform="translate(411.9 291.3) scale(6.8 7.2)" opacity="0.85"/><use href="#dK" transform="translate(430 291.3) scale(6.8 7.2)" opacity="0.94"/><use href="#dK" transform="translate(447.7 291.3) scale(6.8 7.2)" opacity="0.89"/><use href="#dK" transform="translate(465.9 291.3) scale(6.8 7.2)" opacity="0.86"/><use href="#dK" transform="translate(484.2 291.3) scale(6.8 7.2)" opacity="0.91"/><use href="#dK" transform="translate(376.4 310.8) scale(6.8 7.2)" opacity="0.82"/><use href="#dK" transform="translate(394.3 310.8) scale(6.8 7.2)" opacity="0.96"/><use href="#dK" transform="translate(412.2 310.8) scale(6.8 7.2)" opacity="0.8"/><use href="#dK" transform="translate(430.6 310.8) scale(6.8 7.2)" opacity="0.89"/><use href="#dK" transform="translate(448.9 310.8) scale(6.8 7.2)" opacity="0.79"/><use href="#dK" transform="translate(466 310.8) scale(6.8 7.2)" opacity="0.81"/><use href="#dK" transform="translate(484.3 310.8) scale(6.8 7.2)" opacity="0.86"/><use href="#dK" transform="translate(376.9 330.3) scale(6.8 7.2)" opacity="0.9"/><use href="#dK" transform="translate(395.1 330.3) scale(6.8 7.2)" opacity="0.89"/><use href="#dK" transform="translate(413.3 330.3) scale(6.8 7.2)" opacity="0.79"/><use href="#dK" transform="translate(431.2 330.3) scale(6.8 7.2)" opacity="0.81"/><use href="#dK" transform="translate(448 330.3) scale(6.8 7.2)" opacity="0.9"/><use href="#dK" transform="translate(466 330.3) scale(6.8 7.2)" opacity="0.74"/><use href="#dK" transform="translate(484.1 330.3) scale(6.8 7.2)" opacity="0.79"/><use href="#dK" transform="translate(377.7 349.9) scale(6.8 7.2)" opacity="0.75"/><use href="#dK" transform="translate(394.9 349.9) scale(6.8 7.2)" opacity="0.7"/><use href="#dK" transform="translate(413.3 349.9) scale(6.8 7.2)" opacity="0.74"/><use href="#dK" transform="translate(431 349.9) scale(6.8 7.2)" opacity="0.69"/><use href="#dK" transform="translate(448.2 349.9) scale(6.8 7.2)" opacity="0.65"/><use href="#dK" transform="translate(466.8 349.9) scale(6.8 7.2)" opacity="0.71"/><use href="#dK" transform="translate(484.9 349.9) scale(6.8 7.2)" opacity="0.75"/><use href="#dK" transform="translate(377.8 369.4) scale(6.8 7.2)" opacity="0.6"/><use href="#dK" transform="translate(394.6 369.4) scale(6.8 7.2)" opacity="0.71"/><use href="#dK" transform="translate(413.1 369.4) scale(6.8 7.2)" opacity="0.6"/><use href="#dK" transform="translate(431.2 369.4) scale(6.8 7.2)" opacity="0.61"/><use href="#dK" transform="translate(448.5 369.4) scale(6.8 7.2)" opacity="0.63"/><use href="#dK" transform="translate(466.8 369.4) scale(6.8 7.2)" opacity="0.67"/><use href="#dK" transform="translate(484.1 369.4) scale(6.8 7.2)" opacity="0.68"/><use href="#dK" transform="translate(377.5 388.9) scale(6.8 7.2)" opacity="0.64"/><use href="#dK" transform="translate(395.5 388.9) scale(6.8 7.2)" opacity="0.69"/><use href="#dK" transform="translate(412.6 388.9) scale(6.8 7.2)" opacity="0.64"/><use href="#dK" transform="translate(431.3 388.9) scale(6.8 7.2)" opacity="0.68"/><use href="#dK" transform="translate(449.1 388.9) scale(6.8 7.2)" opacity="0.6"/><use href="#dK" transform="translate(467.4 388.9) scale(6.8 7.2)" opacity="0.69"/><use href="#dK" transform="translate(484.4 388.9) scale(6.8 7.2)" opacity="0.64"/><use href="#dK" transform="translate(378 408.5) scale(6.8 7.2)" opacity="0.61"/><use href="#dK" transform="translate(395.3 408.5) scale(6.8 7.2)" opacity="0.71"/><use href="#dK" transform="translate(413.8 408.5) scale(6.8 7.2)" opacity="0.61"/><use href="#dK" transform="translate(431.5 408.5) scale(6.8 7.2)" opacity="0.63"/><use href="#dK" transform="translate(449.3 408.5) scale(6.8 7.2)" opacity="0.69"/><use href="#dK" transform="translate(466.5 408.5) scale(6.8 7.2)" opacity="0.61"/><use href="#dK" transform="translate(484.5 408.5) scale(6.8 7.2)" opacity="0.61"/><use href="#dK" transform="translate(377.1 428) scale(6.8 7.2)" opacity="0.6"/><use href="#dK" transform="translate(395.4 428) scale(6.8 7.2)" opacity="0.64"/><use href="#dK" transform="translate(412.9 428) scale(6.8 7.2)" opacity="0.66"/><use href="#dK" transform="translate(431.9 428) scale(6.8 7.2)" opacity="0.66"/><use href="#dK" transform="translate(449.1 428) scale(6.8 7.2)" opacity="0.68"/><use href="#dK" transform="translate(467 428) scale(6.8 7.2)" opacity="0.6"/><use href="#dK" transform="translate(485 428) scale(6.8 7.2)" opacity="0.58"/><use href="#dK" transform="translate(378 447.5) scale(6.8 7.2)" opacity="0.6"/><use href="#dK" transform="translate(395.5 447.5) scale(6.8 7.2)" opacity="0.71"/><use href="#dK" transform="translate(413.9 447.5) scale(6.8 7.2)" opacity="0.7"/><use href="#dK" transform="translate(431.6 447.5) scale(6.8 7.2)" opacity="0.67"/><use href="#dK" transform="translate(449.6 447.5) scale(6.8 7.2)" opacity="0.72"/><use href="#dK" transform="translate(466.9 447.5) scale(6.8 7.2)" opacity="0.69"/><use href="#dK" transform="translate(484.9 447.5) scale(6.8 7.2)" opacity="0.61"/><use href="#dK" transform="translate(378.3 467) scale(6.8 7.2)" opacity="0.66"/><use href="#dK" transform="translate(396.2 467) scale(6.8 7.2)" opacity="0.7"/><use href="#dK" transform="translate(413.8 467) scale(6.8 7.2)" opacity="0.6"/><use href="#dK" transform="translate(431 467) scale(6.8 7.2)" opacity="0.65"/><use href="#dK" transform="translate(449.8 467) scale(6.8 7.2)" opacity="0.62"/><use href="#dK" transform="translate(466.9 467) scale(6.8 7.2)" opacity="0.58"/><use href="#dK" transform="translate(484.9 467) scale(6.8 7.2)" opacity="0.68"/><use href="#dK" transform="translate(377.4 486.6) scale(6.8 7.2)" opacity="0.61"/><use href="#dK" transform="translate(395.6 486.6) scale(6.8 7.2)" opacity="0.68"/><use href="#dK" transform="translate(414.4 486.6) scale(6.8 7.2)" opacity="0.58"/><use href="#dK" transform="translate(431.3 486.6) scale(6.8 7.2)" opacity="0.71"/><use href="#dK" transform="translate(450.2 486.6) scale(6.8 7.2)" opacity="0.6"/><use href="#dK" transform="translate(467.3 486.6) scale(6.8 7.2)" opacity="0.65"/><use href="#dK" transform="translate(485.2 486.6) scale(6.8 7.2)" opacity="0.64"/><use href="#dK" transform="translate(378.1 506.1) scale(6.8 7.2)" opacity="0.72"/><use href="#dK" transform="translate(395.5 506.1) scale(6.8 7.2)" opacity="0.69"/><use href="#dK" transform="translate(413.6 506.1) scale(6.8 7.2)" opacity="0.69"/><use href="#dK" transform="translate(432 506.1) scale(6.8 7.2)" opacity="0.79"/><use href="#dK" transform="translate(449.5 506.1) scale(6.8 7.2)" opacity="0.81"/><use href="#dK" transform="translate(467.9 506.1) scale(6.8 7.2)" opacity="0.73"/><use href="#dK" transform="translate(485.5 506.1) scale(6.8 7.2)" opacity="0.71"/><use href="#dK" transform="translate(378.8 525.6) scale(6.8 7.2)" opacity="0.88"/><use href="#dK" transform="translate(395.7 525.6) scale(6.8 7.2)" opacity="0.81"/><use href="#dK" transform="translate(414.3 525.6) scale(6.8 7.2)" opacity="0.85"/><use href="#dK" transform="translate(432.2 525.6) scale(6.8 7.2)" opacity="0.82"/><use href="#dK" transform="translate(450.2 525.6) scale(6.8 7.2)" opacity="0.93"/><use href="#dK" transform="translate(467.3 525.6) scale(6.8 7.2)" opacity="0.89"/><use href="#dK" transform="translate(485.3 525.6) scale(6.8 7.2)" opacity="0.91"/><use href="#dK" transform="translate(378.8 545.2) scale(6.8 7.2)" opacity="0.93"/><use href="#dK" transform="translate(396 545.2) scale(6.8 7.2)" opacity="0.79"/><use href="#dK" transform="translate(414.4 545.2) scale(6.8 7.2)" opacity="0.89"/><use href="#dK" transform="translate(431.7 545.2) scale(6.8 7.2)" opacity="0.81"/><use href="#dK" transform="translate(450.1 545.2) scale(6.8 7.2)" opacity="0.8"/><use href="#dK" transform="translate(468.1 545.2) scale(6.8 7.2)" opacity="0.82"/><use href="#dK" transform="translate(485.5 545.2) scale(6.8 7.2)" opacity="0.86"/><use href="#dK" transform="translate(378.6 564.7) scale(6.8 7.2)" opacity="0.87"/><use href="#dK" transform="translate(395.9 564.7) scale(6.8 7.2)" opacity="0.87"/><use href="#dK" transform="translate(414 564.7) scale(6.8 7.2)" opacity="0.79"/><use href="#dK" transform="translate(432.4 564.7) scale(6.8 7.2)" opacity="0.86"/><use href="#dK" transform="translate(450.3 564.7) scale(6.8 7.2)" opacity="0.9"/><use href="#dK" transform="translate(467.7 564.7) scale(6.8 7.2)" opacity="0.79"/><use href="#dK" transform="translate(486.1 564.7) scale(6.8 7.2)" opacity="0.78"/><use href="#dK" transform="translate(378.3 584.2) scale(6.8 7.2)" opacity="0.65"/><use href="#dK" transform="translate(396.9 584.2) scale(6.8 7.2)" opacity="0.74"/><use href="#dK" transform="translate(414.7 584.2) scale(6.8 7.2)" opacity="0.76"/><use href="#dK" transform="translate(432.7 584.2) scale(6.8 7.2)" opacity="0.66"/><use href="#dK" transform="translate(450.1 584.2) scale(6.8 7.2)" opacity="0.73"/><use href="#dK" transform="translate(467.7 584.2) scale(6.8 7.2)" opacity="0.71"/><use href="#dK" transform="translate(485.6 584.2) scale(6.8 7.2)" opacity="0.62"/><use href="#dK" transform="translate(378.8 603.8) scale(6.8 7.2)" opacity="0.6"/><use href="#dK" transform="translate(397.2 603.8) scale(6.8 7.2)" opacity="0.7"/><use href="#dK" transform="translate(414.6 603.8) scale(6.8 7.2)" opacity="0.6"/><use href="#dK" transform="translate(432.1 603.8) scale(6.8 7.2)" opacity="0.65"/><use href="#dK" transform="translate(450.4 603.8) scale(6.8 7.2)" opacity="0.63"/><use href="#dK" transform="translate(468.6 603.8) scale(6.8 7.2)" opacity="0.65"/><use href="#dK" transform="translate(486.6 603.8) scale(6.8 7.2)" opacity="0.59"/><use href="#dK" transform="translate(378.4 623.3) scale(6.8 7.2)" opacity="0.63"/><use href="#dK" transform="translate(396.8 623.3) scale(6.8 7.2)" opacity="0.61"/><use href="#dK" transform="translate(415 623.3) scale(6.8 7.2)" opacity="0.61"/><use href="#dK" transform="translate(432.4 623.3) scale(6.8 7.2)" opacity="0.64"/><use href="#dK" transform="translate(450.8 623.3) scale(6.8 7.2)" opacity="0.69"/><use href="#dK" transform="translate(468.3 623.3) scale(6.8 7.2)" opacity="0.64"/><use href="#dK" transform="translate(486.9 623.3) scale(6.8 7.2)" opacity="0.71"/><use href="#dK" transform="translate(379.2 642.8) scale(6.8 7.2)" opacity="0.59"/><use href="#dK" transform="translate(396.9 642.8) scale(6.8 7.2)" opacity="0.67"/><use href="#dK" transform="translate(414.6 642.8) scale(6.8 7.2)" opacity="0.58"/><use href="#dK" transform="translate(433.4 642.8) scale(6.8 7.2)" opacity="0.71"/><use href="#dK" transform="translate(450.2 642.8) scale(6.8 7.2)" opacity="0.64"/><use href="#dK" transform="translate(468.7 642.8) scale(6.8 7.2)" opacity="0.62"/><use href="#dK" transform="translate(486 642.8) scale(6.8 7.2)" opacity="0.68"/><use href="#dK" transform="translate(379.5 662.3) scale(6.8 7.2)" opacity="0.64"/><use href="#dK" transform="translate(396.6 662.3) scale(6.8 7.2)" opacity="0.63"/><use href="#dK" transform="translate(414.5 662.3) scale(6.8 7.2)" opacity="0.71"/><use href="#dK" transform="translate(432.4 662.3) scale(6.8 7.2)" opacity="0.62"/><use href="#dK" transform="translate(451.1 662.3) scale(6.8 7.2)" opacity="0.6"/><use href="#dK" transform="translate(468.2 662.3) scale(6.8 7.2)" opacity="0.59"/><use href="#dK" transform="translate(486.2 662.3) scale(6.8 7.2)" opacity="0.65"/><use href="#dK" transform="translate(379.8 681.9) scale(6.8 7.2)" opacity="0.6"/><use href="#dK" transform="translate(396.9 681.9) scale(6.8 7.2)" opacity="0.69"/><use href="#dK" transform="translate(415.1 681.9) scale(6.8 7.2)" opacity="0.62"/><use href="#dK" transform="translate(432.6 681.9) scale(6.8 7.2)" opacity="0.61"/><use href="#dK" transform="translate(451.5 681.9) scale(6.8 7.2)" opacity="0.59"/><use href="#dK" transform="translate(468.6 681.9) scale(6.8 7.2)" opacity="0.68"/><use href="#dK" transform="translate(487.2 681.9) scale(6.8 7.2)" opacity="0.71"/><use href="#dK" transform="translate(379.5 701.4) scale(6.8 7.2)" opacity="0.71"/><use href="#dK" transform="translate(397.5 701.4) scale(6.8 7.2)" opacity="0.62"/><use href="#dK" transform="translate(415.2 701.4) scale(6.8 7.2)" opacity="0.68"/><use href="#dK" transform="translate(433.5 701.4) scale(6.8 7.2)" opacity="0.59"/><use href="#dK" transform="translate(450.7 701.4) scale(6.8 7.2)" opacity="0.71"/><use href="#dK" transform="translate(468.5 701.4) scale(6.8 7.2)" opacity="0.69"/><use href="#dK" transform="translate(486.7 701.4) scale(6.8 7.2)" opacity="0.61"/><use href="#dK" transform="translate(379.3 720.9) scale(6.8 7.2)" opacity="0.64"/><use href="#dK" transform="translate(398.1 720.9) scale(6.8 7.2)" opacity="0.6"/><use href="#dK" transform="translate(415.8 720.9) scale(6.8 7.2)" opacity="0.62"/><use href="#dK" transform="translate(432.9 720.9) scale(6.8 7.2)" opacity="0.68"/><use href="#dK" transform="translate(451 720.9) scale(6.8 7.2)" opacity="0.6"/><use href="#dK" transform="translate(469 720.9) scale(6.8 7.2)" opacity="0.69"/><use href="#dK" transform="translate(487.5 720.9) scale(6.8 7.2)" opacity="0.66"/><use href="#dK" transform="translate(379.2 740.5) scale(6.8 7.2)" opacity="0.81"/><use href="#dK" transform="translate(397.8 740.5) scale(6.8 7.2)" opacity="0.83"/><use href="#dK" transform="translate(416.1 740.5) scale(6.8 7.2)" opacity="0.73"/><use href="#dK" transform="translate(433.9 740.5) scale(6.8 7.2)" opacity="0.81"/><use href="#dK" transform="translate(451.1 740.5) scale(6.8 7.2)" opacity="0.74"/><use href="#dK" transform="translate(469.1 740.5) scale(6.8 7.2)" opacity="0.74"/><use href="#dK" transform="translate(487 740.5) scale(6.8 7.2)" opacity="0.69"/><use href="#dK" transform="translate(379.6 760) scale(6.8 7.2)" opacity="0.95"/><use href="#dK" transform="translate(397.7 760) scale(6.8 7.2)" opacity="0.9"/><use href="#dK" transform="translate(416.1 760) scale(6.8 7.2)" opacity="0.92"/><use href="#dK" transform="translate(433.3 760) scale(6.8 7.2)" opacity="0.95"/><use href="#dK" transform="translate(451.8 760) scale(6.8 7.2)" opacity="0.97"/><use href="#dK" transform="translate(469.7 760) scale(6.8 7.2)" opacity="0.92"/><use href="#dK" transform="translate(487.7 760) scale(6.8 7.2)" opacity="0.83"/><use href="#dK" transform="translate(380.2 779.5) scale(6.8 7.2)" opacity="0.85"/><use href="#dK" transform="translate(398.3 779.5) scale(6.8 7.2)" opacity="0.8"/><use href="#dK" transform="translate(415.9 779.5) scale(6.8 7.2)" opacity="0.84"/><use href="#dK" transform="translate(434.1 779.5) scale(6.8 7.2)" opacity="0.84"/><use href="#dK" transform="translate(452 779.5) scale(6.8 7.2)" opacity="0.94"/><use href="#dK" transform="translate(470 779.5) scale(6.8 7.2)" opacity="0.8"/><use href="#dK" transform="translate(487.9 779.5) scale(6.8 7.2)" opacity="0.92"/><use href="#dK" transform="translate(380.4 799.1) scale(6.8 7.2)" opacity="0.9"/><use href="#dK" transform="translate(397.5 799.1) scale(6.8 7.2)" opacity="0.94"/><use href="#dK" transform="translate(416 799.1) scale(6.8 7.2)" opacity="0.86"/><use href="#dK" transform="translate(433.7 799.1) scale(6.8 7.2)" opacity="0.93"/><use href="#dK" transform="translate(452.1 799.1) scale(6.8 7.2)" opacity="0.94"/><use href="#dK" transform="translate(469.3 799.1) scale(6.8 7.2)" opacity="0.84"/><use href="#dK" transform="translate(487.2 799.1) scale(6.8 7.2)" opacity="0.8"/><use href="#dK" transform="translate(380.1 818.6) scale(6.8 7.2)" opacity="0.78"/><use href="#dK" transform="translate(398.5 818.6) scale(6.8 7.2)" opacity="0.82"/><use href="#dK" transform="translate(415.6 818.6) scale(6.8 7.2)" opacity="0.79"/><use href="#dK" transform="translate(434.3 818.6) scale(6.8 7.2)" opacity="0.81"/><use href="#dK" transform="translate(451.8 818.6) scale(6.8 7.2)" opacity="0.85"/><use href="#dK" transform="translate(470.1 818.6) scale(6.8 7.2)" opacity="0.96"/><use href="#dK" transform="translate(487.5 818.6) scale(6.8 7.2)" opacity="0.9"/><rect x="383.3" y="41.5" width="72.6" height="762.2" filter="url(#nz)" opacity="0.18"/></g>
<rect x="458.1" y="44.5" width="72.1" height="759.2" fill="#000"/>
<linearGradient id="fd" x1="0" y1="44.5" x2="0" y2="803.7" gradientUnits="userSpaceOnUse"><stop offset="-0" stop-color="#fff" stop-opacity="0.4"/><stop offset="0.08" stop-color="#fff" stop-opacity="0.41"/><stop offset="0.12" stop-color="#fff" stop-opacity="0.56"/><stop offset="0.27" stop-color="#fff" stop-opacity="0.56"/><stop offset="0.32" stop-color="#fff" stop-opacity="0.39"/><stop offset="0.37" stop-color="#fff" stop-opacity="0.39"/><stop offset="0.41" stop-color="#fff" stop-opacity="0.56"/><stop offset="0.6" stop-color="#fff" stop-opacity="0.56"/><stop offset="0.63" stop-color="#fff" stop-opacity="0.4"/><stop offset="0.69" stop-color="#fff" stop-opacity="0.4"/><stop offset="0.72" stop-color="#fff" stop-opacity="0.56"/><stop offset="0.89" stop-color="#fff" stop-opacity="0.56"/><stop offset="0.92" stop-color="#fff" stop-opacity="0.38"/><stop offset="1" stop-color="#fff" stop-opacity="0.38"/></linearGradient>
<g clip-path="url(#cF)"><rect x="458.1" y="44.5" width="72.1" height="759.2" fill="url(#fd)" filter="url(#fz)"/></g>
<text transform="translate(6.7 77.8) scale(1 1.03)" font-size="30.7" fill="#fff">ADF</text>
<text transform="translate(84 77.8) scale(1 1.03)" font-size="30.7" fill="#fff">Nd</text>
<text transform="translate(163.3 77.8) scale(1 1.03)" font-size="30.7" fill="#fff">Ni</text>
<text transform="translate(238.1 77.8) scale(1 1.03)" font-size="30.7" fill="#fff">Sr</text>
<text transform="translate(316 77.8) scale(1 1.03)" font-size="30.7" fill="#fff">Ti</text>
<text transform="translate(391.2 77.8) scale(1 1.03)" font-size="30.7" fill="#fff">O</text>
<text transform="translate(470 77.8) scale(1 1.03)" font-size="30.7" fill="#fff">F</text>
<text transform="translate(3.6 778.6) scale(1 1.07)" font-size="23" fill="#fff">1 nm</text>
<rect x="6.2" y="785.9" width="46.9" height="4.4" fill="#fff"/>
<path d="M7.9 526V325.3H68.8V526Z" fill="none" stroke="#fff200" stroke-width="6" stroke-dasharray="17.6 5.5"/>
<path d="M387.9 526V325.3H448.9V526Z" fill="none" stroke="#fff200" stroke-width="6" stroke-dasharray="17.6 5.5"/>
<path d="M465 526V325.3H522.4V526Z" fill="none" stroke="#fff200" stroke-width="6" stroke-dasharray="17.6 5.5"/>
<text transform="translate(13.2 28.4) scale(1 1)" font-size="39">a</text>
<text transform="translate(79.6 28.4) scale(1 1)" font-size="39">b</text>
<text transform="translate(678.3 28) scale(1 1)" font-size="39">c</text>
<text transform="translate(1027.3 30.4) scale(1 1)" font-size="39">d</text>
<text transform="translate(1395.3 28.1) scale(1 1)" font-size="39">e</text>
<g stroke="#000" stroke-width="2.6" fill="none" stroke-dasharray="9.8 5.4"><path d="M530.3 311.2 L612.9 77.5"/><path d="M530.3 529.8 L613.2 772.3"/></g>
<path d="M615.4 70.6 L616.6 79.6 L613 77.6 L610.2 77.4 Z" fill="#000"/><path d="M615.5 778.9 L610.0 772.6 L613.0 772.5 L616.6 770.4 Z" fill="#000"/>
<rect x="667.4" y="47.4" width="245.2" height="750.8" fill="none" stroke="#000" stroke-width="2.9"/>
<path d="M654.9 766.3h12.5M661.1 702.1h6.3M654.9 637.9h12.5M661.1 573.6h6.3M654.9 509.4h12.5M661.1 445.2h6.3M654.9 381h12.5M661.1 316.8h6.3M654.9 252.5h12.5M661.1 188.3h6.3M654.9 124.1h12.5M661.1 59.9h6.3" stroke="#000" stroke-width="2.6" fill="none"/>
<text transform="translate(656.6 775.2) scale(1 1.07)" font-size="28.1" text-anchor="end">0</text>
<text transform="translate(656.6 646.8) scale(1 1.07)" font-size="28.1" text-anchor="end">20</text>
<text transform="translate(656.6 518.3) scale(1 1.07)" font-size="28.1" text-anchor="end">40</text>
<text transform="translate(656.6 389.9) scale(1 1.07)" font-size="28.1" text-anchor="end">60</text>
<text transform="translate(656.6 261.4) scale(1 1.07)" font-size="28.1" text-anchor="end">80</text>
<text transform="translate(656.6 133) scale(1 1.07)" font-size="28.1" text-anchor="end">100</text>
<polyline points="871,85.9 851.3,91.8 828,97.6 795.5,104.5 759.5,111.5 745.6,118 739.8,125 731.6,130 732.3,137 743.3,143.3 766.5,148.7 789.7,154.5 801.3,161.9 795.5,169.1 781.6,176.5 759.5,187.7 740.9,193.5 730.5,199.8 724.7,206.5 732.8,212.8 737.4,219.7 752.5,227.9 763,232.5 768.8,239.5 770,244.6 760.7,251.1 746.7,256.9 742.1,265 737,270.4 720.7,276.7 720,282.5 730.5,288.3 744.4,295.2 764.2,301 772.3,308 773.4,314.3 765.3,320.8 763.5,327.3 763,333.6 753.7,340.5 744.4,346.3 737.4,352.8 728.6,359.1 732.3,366.1 740.9,376.5 751.4,388.2 759.5,390.9 749.1,397.4 741.6,403.7 743.3,409.6 737.4,416.3 736.3,422.8 727,430.2 722.3,436 724.7,442.3 739.8,453.4 752.5,462.3 758.4,467.4 751.9,474.3 742.1,486.4 742.6,492.4 729.3,498.7 728.6,505.7 720,512 720.7,518.5 736.3,524.3 742.1,532 757.2,544 751.9,552.1 753.7,561.4 751.9,565.4 735.1,575.4 734.7,581.6 732.8,588.2 736.3,594.7 742.1,600 758.4,605.8 773.5,613.5 776.5,620.4 781.6,626.2 771.1,632.1 753.7,639.5 744.4,645.3 737,651.6 737,658.1 749.1,664.6 761.8,671.5 793.2,677.1 819.9,683.6 829.9,690.1 818.7,697.1 804.8,702.7 781.6,708.7 758.4,715 749.1,721.3 737.4,727.8 740.2,734.7 750.9,741 786.2,746.3 830.4,753.3 869.8,759.8 884.9,766.3" fill="none" stroke="#000" stroke-width="4.9" stroke-linejoin="round" stroke-linecap="round"/>
<polyline points="850.1,89.4 828,97.6 802.5,113.8 783.9,128.9 770,144 760.7,155.6 753.2,167.2 753.2,639.5 754.9,653.4 761.8,671.5 772.3,690.6 783.9,706.9 795.5,720.8 811.8,735.9 830.4,749.8 855.9,764.2" fill="none" stroke="#0000ff" stroke-width="4" stroke-dasharray="10.8 3.1" stroke-linejoin="round"/>
<text transform="translate(873.6 85.5) scale(1 1.07)" font-size="39.2">O</text>
<text transform="translate(610.2 422.6) rotate(-90) scale(1 1.03)" font-size="34.2" text-anchor="middle">Distance (pixels)</text>
<text transform="translate(789.8 834.6) scale(1 1.03)" font-size="34.5" text-anchor="middle">Intensity (a.u.)</text>
<rect x="1014.8" y="48.5" width="244.6" height="751.3" fill="none" stroke="#000" stroke-width="2.9"/>
<path d="M1002.3 767.9h12.5M1008.5 703.7h6.3M1002.3 639.4h12.5M1008.5 575.2h6.3M1002.3 511h12.5M1008.5 446.7h6.3M1002.3 382.5h12.5M1008.5 318.3h6.3M1002.3 254.1h12.5M1008.5 189.8h6.3M1002.3 125.6h12.5M1008.5 61.4h6.3" stroke="#000" stroke-width="2.6" fill="none"/>
<text transform="translate(1004 776.8) scale(1 1.07)" font-size="28.1" text-anchor="end">0</text>
<text transform="translate(1004 648.3) scale(1 1.07)" font-size="28.1" text-anchor="end">20</text>
<text transform="translate(1004 519.9) scale(1 1.07)" font-size="28.1" text-anchor="end">40</text>
<text transform="translate(1004 391.4) scale(1 1.07)" font-size="28.1" text-anchor="end">60</text>
<text transform="translate(1004 263) scale(1 1.07)" font-size="28.1" text-anchor="end">80</text>
<text transform="translate(1004 134.5) scale(1 1.07)" font-size="28.1" text-anchor="end">100</text>
<polyline points="1085.8,87.1 1073.1,93.4 1077,99.9 1068.4,106.9 1075.4,113.1 1094,118.5 1111.9,125.4 1111.4,131.9 1087.7,138.2 1106.7,144.5 1099.8,151 1120.7,156.8 1134.1,163.8 1130,170.7 1136.5,176.1 1113.7,181.6 1104.4,187.7 1102.1,194 1110.2,201 1114.9,207.8 1105.6,214.4 1142.7,225.1 1167.1,233.2 1169,239.5 1149,245.8 1164.8,258.5 1169.9,265.5 1161.3,271.5 1142.7,278.5 1125.8,284.1 1128.1,291.1 1142.7,299.9 1161.3,309.2 1159,315.7 1182.9,321.9 1190.4,334.7 1140.4,340.5 1138.8,347.5 1134.1,353.8 1137.4,360.3 1125.3,366.8 1104.9,373.1 1112.5,380 1135.8,385.8 1125.8,392.3 1146.7,398.6 1147.4,404.5 1157.8,410.5 1146.2,417.4 1130,424.4 1107.9,430.2 1099.3,436.7 1130,449.2 1142.7,455.7 1143.9,462.7 1155.5,474.3 1159,481.3 1151.3,487.8 1170.6,494.1 1169,501 1141.6,507.3 1131.8,513.8 1146.7,519.9 1127.2,525.9 1142.7,531.9 1145.8,538.9 1169,545.2 1159,551.5 1142.7,558 1146.7,563.8 1149.7,570.7 1142.7,577.7 1138.1,589.3 1124.2,602.4 1130,609.3 1160.2,615.1 1154.4,621.4 1163,627.9 1148.5,634.4 1131.1,640.7 1146.2,653.4 1130,659.2 1085.8,665 1070,672 1114.2,684.8 1107.9,691.1 1080,697.6 1090.9,702.2 1083.5,708.7 1075.4,716.1 1073.1,723.1 1063.8,728.9 1059.1,735.2 1058,742.2 1044.5,748.2 1062.6,754.5 1071.9,761 1069.1,767.7" fill="none" stroke="#ff0000" stroke-width="4.9" stroke-linejoin="round" stroke-linecap="round"/>
<polyline points="1039.4,95.2 1067.2,108 1085.8,120.8 1102.1,134.7 1118.4,153.3 1130,170.7 1139.3,185.8 1143.4,195.1 1143.4,650 1141.6,655.7 1132.3,672 1118.4,688.3 1102.1,704.5 1085.8,718.5 1067.2,731.2 1041.7,743.6" fill="none" stroke="#0000ff" stroke-width="4" stroke-dasharray="10.8 3.1" stroke-linejoin="round"/>
<text transform="translate(1225.2 85.6) scale(1 1.07)" font-size="38">F</text>
<text transform="translate(957 423.9) rotate(-90) scale(1 1.03)" font-size="34.2" text-anchor="middle">Distance (pixels)</text>
<text transform="translate(1137.2 836.4) scale(1 1.03)" font-size="34.5" text-anchor="middle">Intensity (a.u.)</text>
<path d="M1386.3 47.7H1751.6V803.3" fill="none" stroke="#000" stroke-width="3"/>
<path d="M1386.3 46.3V804.8M1370.9 803.3H1753.1" fill="none" stroke="#000" stroke-width="2.9"/>
<path d="M1370.9 803.3H1753.1" fill="none" stroke="#000" stroke-width="3.5"/>
<path d="M1370.9 803.3h15.4M1378.6 727.7h7.7M1370.9 652.2h15.4M1378.6 576.6h7.7M1370.9 501.1h15.4M1378.6 425.5h7.7M1370.9 349.9h15.4M1378.6 274.4h7.7M1370.9 198.8h15.4M1378.6 123.3h7.7M1370.9 47.7h15.4M1386.4 803.3v15.3M1438.5 803.3v7.8M1490.6 803.3v15.3M1542.6 803.3v7.8M1594.7 803.3v15.3M1646.8 803.3v7.8M1698.9 803.3v15.3M1751 803.3v7.8" stroke="#000" stroke-width="3" fill="none"/>
<text transform="translate(1364.2 813.2) scale(1 1.08)" font-size="31.2" text-anchor="end">0</text>
<text transform="translate(1364.2 662.1) scale(1 1.08)" font-size="31.2" text-anchor="end">2</text>
<text transform="translate(1364.2 511) scale(1 1.08)" font-size="31.2" text-anchor="end">4</text>
<text transform="translate(1364.2 359.8) scale(1 1.08)" font-size="31.2" text-anchor="end">6</text>
<text transform="translate(1364.2 208.7) scale(1 1.08)" font-size="31.2" text-anchor="end">8</text>
<text transform="translate(1364.2 57.6) scale(1 1.08)" font-size="31.2" text-anchor="end">10</text>
<text transform="translate(1386.4 847.3) scale(1 1.08)" font-size="31.2" text-anchor="middle">2</text>
<text transform="translate(1490.6 847.3) scale(1 1.08)" font-size="31.2" text-anchor="middle">3</text>
<text transform="translate(1594.7 847.3) scale(1 1.08)" font-size="31.2" text-anchor="middle">4</text>
<text transform="translate(1698.9 847.3) scale(1 1.08)" font-size="31.2" text-anchor="middle">5</text>
<path d="M1497.5 49.3V803.3M1578.3 49.3V803.3M1681.8 49.3V803.3" stroke="#000" stroke-width="2.45" stroke-dasharray="8.5 6.71" fill="none"/>
<path d="M1541.1 142L1558.2 179M1577.3 217.5L1597.8 255.6M1607.5 296.1L1606.9 328.5M1602.3 371.1L1595.5 404.7M1594.5 447.1L1599.4 479.4M1596.2 521.2L1585.2 556.3M1579.2 598.3L1579.8 630.5M1571.3 671.6L1554.5 708.2" stroke="#000" stroke-width="4.2" stroke-linecap="round" fill="none"/>
<path d="M1461.3 122.5H1604M1461.3 116.7v11.6M1604 116.7v11.6M1532.1 198.5H1602.6M1532.1 192.7v11.6M1602.6 192.7v11.6M1587.4 274.6H1628.9M1587.4 268.8v11.6M1628.9 268.8v11.6M1587.4 350H1625.8M1587.4 344.2v11.6M1625.8 344.2v11.6M1568.6 425.8H1614.8M1568.6 420v11.6M1614.8 420v11.6M1587.1 500.7H1618.9M1587.1 494.9v11.6M1618.9 494.9v11.6M1555.6 576.8H1603.7M1555.6 571v11.6M1603.7 571v11.6M1563.1 652H1598.4M1563.1 646.2v11.6M1598.4 646.2v11.6M1517.7 727.8H1574.9M1517.7 722v11.6M1574.9 722v11.6" stroke="#000" stroke-width="3.9" stroke-linecap="round" fill="none"/>
<use href="#bl" x="1532.1" y="122.9"/>
<use href="#bl" x="1567.2" y="198.9"/>
<use href="#bl" x="1607.9" y="275"/>
<use href="#bl" x="1606.5" y="350.4"/>
<use href="#bl" x="1591.3" y="426.2"/>
<use href="#bl" x="1602.6" y="501.1"/>
<use href="#bl" x="1578.8" y="577.2"/>
<use href="#bl" x="1580.2" y="652.4"/>
<use href="#bl" x="1545.6" y="728.2"/>
<text transform="translate(1448.6 789.7) scale(1 1.08)" font-size="31.2">+3</text>
<text transform="translate(1529.6 789.7) scale(1 1.08)" font-size="31.2">+2</text>
<text transform="translate(1634.8 789.7) scale(1 1.08)" font-size="31.2">+1</text>
<text transform="translate(1320 425.5) rotate(-90) scale(1 1.04)" font-size="38.8" text-anchor="middle">Position (Unit cell)</text>
<text transform="translate(1499 893.6) scale(1 1.06)" font-size="35.8">Ni L<tspan font-size="23.5" dy="8.7">3</tspan><tspan dy="-8.7">/L</tspan><tspan font-size="23.5" dy="8.7">2</tspan></text>
</svg></body></html>
